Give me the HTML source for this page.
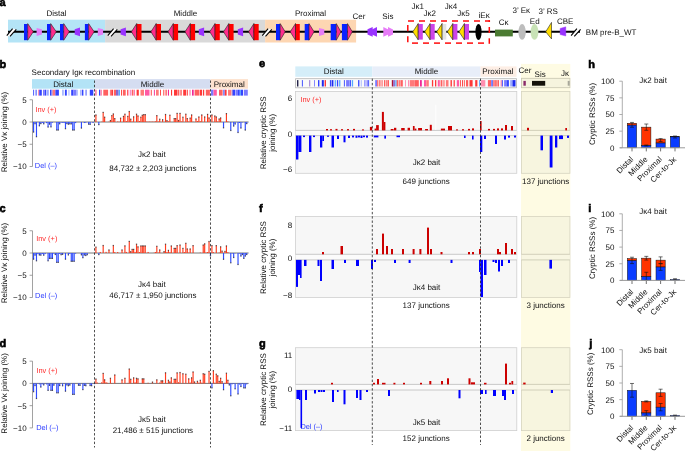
<!DOCTYPE html>
<html><head><meta charset="utf-8"><style>
html,body{margin:0;padding:0;background:#fff;overflow:hidden;}
svg{display:block;will-change:transform;}
text{font-family:"Liberation Sans", sans-serif;text-rendering:geometricPrecision;}
</style></head><body>
<svg width="685" height="451" viewBox="0 0 685 451" font-family='"Liberation Sans", sans-serif'>
<rect x="0" y="0" width="685" height="451" fill="#fff"/>
<text x="-0.40" y="5.80" font-size="11" text-anchor="start" fill="#000" font-weight="bold" stroke="#000" stroke-width="0.6">a</text>
<rect x="8.00" y="19.70" width="97.10" height="22.80" fill="#b4e4f6" />
<rect x="105.10" y="19.70" width="160.00" height="22.80" fill="#d9d9d9" />
<rect x="265.10" y="19.70" width="91.00" height="22.80" fill="#fdd6b2" />
<text x="56.50" y="16.00" font-size="8" text-anchor="middle" fill="#111" font-weight="normal" >Distal</text>
<text x="185.50" y="16.00" font-size="8" text-anchor="middle" fill="#111" font-weight="normal" >Middle</text>
<text x="310.50" y="16.00" font-size="8" text-anchor="middle" fill="#111" font-weight="normal" >Proximal</text>
<line x1="8.00" y1="31.80" x2="580.00" y2="31.80" stroke="#000" stroke-width="1.9" />
<polygon points="6.80,35.60 10.00,36.40 16.30,29.30 12.60,28.60" fill="#fff" />
<line x1="6.80" y1="35.60" x2="12.60" y2="28.60" stroke="#000" stroke-width="1.1" />
<line x1="10.00" y1="36.40" x2="16.30" y2="29.30" stroke="#000" stroke-width="1.1" />
<rect x="24.00" y="24.00" width="3.70" height="16.20" fill="#0a22ff" />
<polygon points="27.70,23.60 33.30,31.80 27.70,40.20" fill="#ff2d8c" stroke="#222" stroke-width="0.6"/>
<polygon points="36.60,27.90 41.90,29.30 41.90,34.40 36.60,35.90" fill="#e67cf7" />
<rect x="47.00" y="24.00" width="3.70" height="16.20" fill="#0a22ff" />
<polygon points="50.70,23.60 56.30,31.80 50.70,40.20" fill="#ff2d8c" stroke="#222" stroke-width="0.6"/>
<rect x="60.00" y="24.00" width="3.70" height="16.20" fill="#0a22ff" />
<polygon points="63.70,23.60 69.30,31.80 63.70,40.20" fill="#ff2d8c" stroke="#222" stroke-width="0.6"/>
<polygon points="74.70,29.30 80.00,27.60 80.00,36.20 74.70,34.40" fill="#9933ff" />
<rect x="84.90" y="24.00" width="3.70" height="16.20" fill="#0a22ff" />
<polygon points="88.60,23.60 94.20,31.80 88.60,40.20" fill="#ff2d8c" stroke="#222" stroke-width="0.6"/>
<polygon points="97.80,27.90 103.10,29.30 103.10,34.40 97.80,35.90" fill="#e67cf7" />
<polygon points="107.80,35.60 111.00,36.40 117.30,29.30 113.60,28.60" fill="#fff" />
<line x1="107.80" y1="35.60" x2="113.60" y2="28.60" stroke="#000" stroke-width="1.1" />
<line x1="111.00" y1="36.40" x2="117.30" y2="29.30" stroke="#000" stroke-width="1.1" />
<polygon points="120.60,29.30 125.90,27.60 125.90,36.20 120.60,34.40" fill="#9933ff" />
<polygon points="131.40,31.80 136.70,23.60 136.70,40.20" fill="#ff2d8c" stroke="#222" stroke-width="0.6"/>
<rect x="136.70" y="24.00" width="4.80" height="16.20" fill="#ff0000" />
<line x1="136.70" y1="23.60" x2="136.70" y2="40.20" stroke="#222" stroke-width="0.6" />
<polygon points="150.90,31.80 156.20,23.60 156.20,40.20" fill="#ff2d8c" stroke="#222" stroke-width="0.6"/>
<rect x="156.20" y="24.00" width="4.80" height="16.20" fill="#ff0000" />
<line x1="156.20" y1="23.60" x2="156.20" y2="40.20" stroke="#222" stroke-width="0.6" />
<polygon points="168.00,31.80 173.30,23.60 173.30,40.20" fill="#ff2d8c" stroke="#222" stroke-width="0.6"/>
<rect x="173.30" y="24.00" width="4.80" height="16.20" fill="#ff0000" />
<line x1="173.30" y1="23.60" x2="173.30" y2="40.20" stroke="#222" stroke-width="0.6" />
<polygon points="185.00,31.80 190.30,23.60 190.30,40.20" fill="#ff2d8c" stroke="#222" stroke-width="0.6"/>
<rect x="190.30" y="24.00" width="4.80" height="16.20" fill="#ff0000" />
<line x1="190.30" y1="23.60" x2="190.30" y2="40.20" stroke="#222" stroke-width="0.6" />
<polygon points="209.70,31.80 215.00,23.60 215.00,40.20" fill="#ff2d8c" stroke="#222" stroke-width="0.6"/>
<rect x="215.00" y="24.00" width="4.80" height="16.20" fill="#ff0000" />
<line x1="215.00" y1="23.60" x2="215.00" y2="40.20" stroke="#222" stroke-width="0.6" />
<polygon points="223.50,31.80 228.80,23.60 228.80,40.20" fill="#ff2d8c" stroke="#222" stroke-width="0.6"/>
<rect x="228.80" y="24.00" width="4.80" height="16.20" fill="#ff0000" />
<line x1="228.80" y1="23.60" x2="228.80" y2="40.20" stroke="#222" stroke-width="0.6" />
<polygon points="248.60,31.80 253.90,23.60 253.90,40.20" fill="#ff2d8c" stroke="#222" stroke-width="0.6"/>
<rect x="253.90" y="24.00" width="4.80" height="16.20" fill="#ff0000" />
<line x1="253.90" y1="23.60" x2="253.90" y2="40.20" stroke="#222" stroke-width="0.6" />
<polygon points="198.80,29.30 204.10,27.60 204.10,36.20 198.80,34.40" fill="#9933ff" />
<polygon points="237.80,29.30 243.10,27.60 243.10,36.20 237.80,34.40" fill="#9933ff" />
<polygon points="262.30,35.60 265.50,36.40 271.80,29.30 268.10,28.60" fill="#fff" />
<line x1="262.30" y1="35.60" x2="268.10" y2="28.60" stroke="#000" stroke-width="1.1" />
<line x1="265.50" y1="36.40" x2="271.80" y2="29.30" stroke="#000" stroke-width="1.1" />
<rect x="276.00" y="24.00" width="4.20" height="16.20" fill="#0a22ff" />
<polygon points="280.20,23.60 285.20,31.80 280.20,40.20" fill="#ff2d8c" stroke="#222" stroke-width="0.6"/>
<polygon points="290.20,31.80 295.50,23.60 295.50,40.20" fill="#ff2d8c" stroke="#222" stroke-width="0.6"/>
<rect x="295.50" y="24.00" width="4.30" height="16.20" fill="#ff0000" />
<line x1="295.50" y1="23.60" x2="295.50" y2="40.20" stroke="#222" stroke-width="0.6" />
<rect x="304.70" y="24.00" width="4.30" height="16.20" fill="#0a22ff" />
<polygon points="309.00,23.60 314.10,31.80 309.00,40.20" fill="#ff2d8c" stroke="#222" stroke-width="0.6"/>
<polygon points="319.00,27.90 324.30,29.30 324.30,34.40 319.00,35.90" fill="#e67cf7" />
<rect x="330.70" y="24.00" width="5.60" height="16.20" fill="#0a22ff" />
<polygon points="336.30,23.60 340.90,31.80 336.30,40.20" fill="#ff2d8c" stroke="#222" stroke-width="0.6"/>
<rect x="341.90" y="24.00" width="5.60" height="16.20" fill="#0a22ff" />
<polygon points="347.50,23.60 352.30,31.80 347.50,40.20" fill="#ff2d8c" stroke="#222" stroke-width="0.6"/>
<polygon points="367.50,29.20 372.70,27.00 372.70,36.70 367.50,34.60" fill="#9933ff" />
<polygon points="372.00,29.40 377.00,27.00 377.00,36.70 372.00,34.40" fill="#9933ff" />
<polygon points="383.30,27.00 388.30,29.40 388.30,34.40 383.30,36.70" fill="#e67cf7" />
<polygon points="388.00,27.00 393.00,29.40 393.00,34.40 388.00,36.70" fill="#e67cf7" />
<text x="352.60" y="18.60" font-size="8" text-anchor="start" fill="#111" font-weight="normal" >Cer</text>
<text x="382.30" y="18.60" font-size="8" text-anchor="start" fill="#111" font-weight="normal" >Sis</text>
<polygon points="412.80,31.80 418.20,23.60 418.20,39.80" fill="#ffdd00" stroke="#222" stroke-width="0.6"/>
<rect x="418.20" y="24.00" width="4.60" height="15.60" fill="#cc44e8" />
<line x1="418.20" y1="23.60" x2="418.20" y2="39.80" stroke="#222" stroke-width="0.6" />
<polygon points="424.70,31.80 430.10,23.60 430.10,39.80" fill="#ffdd00" stroke="#222" stroke-width="0.6"/>
<rect x="430.10" y="24.00" width="4.60" height="15.60" fill="#cc44e8" />
<line x1="430.10" y1="23.60" x2="430.10" y2="39.80" stroke="#222" stroke-width="0.6" />
<polygon points="436.70,31.80 442.10,23.60 442.10,39.80" fill="#ffdd00" stroke="#222" stroke-width="0.6"/>
<rect x="442.10" y="24.00" width="4.20" height="15.60" fill="#e2e2e2" />
<line x1="442.10" y1="23.60" x2="442.10" y2="39.80" stroke="#222" stroke-width="0.6" />
<polygon points="447.40,31.80 452.80,23.60 452.80,39.80" fill="#ffdd00" stroke="#222" stroke-width="0.6"/>
<rect x="452.80" y="24.00" width="4.60" height="15.60" fill="#cc44e8" />
<line x1="452.80" y1="23.60" x2="452.80" y2="39.80" stroke="#222" stroke-width="0.6" />
<polygon points="459.00,31.80 464.40,23.60 464.40,39.80" fill="#ffdd00" stroke="#222" stroke-width="0.6"/>
<rect x="464.40" y="24.00" width="4.60" height="15.60" fill="#cc44e8" />
<line x1="464.40" y1="23.60" x2="464.40" y2="39.80" stroke="#222" stroke-width="0.6" />
<ellipse cx="478.5" cy="32.0" rx="3.1" ry="8.0" fill="#000"/>
<line x1="408.00" y1="21.00" x2="414.00" y2="21.00" stroke="#ff0a0a" stroke-width="1.5" />
<line x1="419.00" y1="21.00" x2="425.00" y2="21.00" stroke="#ff0a0a" stroke-width="1.5" />
<line x1="430.00" y1="21.00" x2="436.00" y2="21.00" stroke="#ff0a0a" stroke-width="1.5" />
<line x1="441.00" y1="21.00" x2="447.00" y2="21.00" stroke="#ff0a0a" stroke-width="1.5" />
<line x1="452.00" y1="21.00" x2="458.00" y2="21.00" stroke="#ff0a0a" stroke-width="1.5" />
<line x1="463.00" y1="21.00" x2="469.00" y2="21.00" stroke="#ff0a0a" stroke-width="1.5" />
<line x1="474.00" y1="21.00" x2="480.00" y2="21.00" stroke="#ff0a0a" stroke-width="1.5" />
<line x1="485.00" y1="21.00" x2="490.00" y2="21.00" stroke="#ff0a0a" stroke-width="1.5" />
<line x1="412.00" y1="43.10" x2="418.00" y2="43.10" stroke="#ff0a0a" stroke-width="1.5" />
<line x1="423.00" y1="43.10" x2="429.00" y2="43.10" stroke="#ff0a0a" stroke-width="1.5" />
<line x1="434.00" y1="43.10" x2="440.00" y2="43.10" stroke="#ff0a0a" stroke-width="1.5" />
<line x1="445.00" y1="43.10" x2="451.00" y2="43.10" stroke="#ff0a0a" stroke-width="1.5" />
<line x1="456.00" y1="43.10" x2="462.00" y2="43.10" stroke="#ff0a0a" stroke-width="1.5" />
<line x1="467.00" y1="43.10" x2="473.00" y2="43.10" stroke="#ff0a0a" stroke-width="1.5" />
<line x1="478.00" y1="43.10" x2="484.00" y2="43.10" stroke="#ff0a0a" stroke-width="1.5" />
<line x1="407.80" y1="25.00" x2="407.80" y2="31.30" stroke="#ff0a0a" stroke-width="1.5" />
<line x1="407.80" y1="36.30" x2="407.80" y2="42.30" stroke="#ff0a0a" stroke-width="1.5" />
<line x1="489.30" y1="20.30" x2="489.30" y2="22.00" stroke="#ff0a0a" stroke-width="1.5" />
<line x1="489.30" y1="27.00" x2="489.30" y2="33.00" stroke="#ff0a0a" stroke-width="1.5" />
<line x1="489.30" y1="38.30" x2="489.30" y2="43.80" stroke="#ff0a0a" stroke-width="1.5" />
<text x="411.50" y="9.20" font-size="8" text-anchor="start" fill="#111" font-weight="normal" >J&#954;1</text>
<text x="423.40" y="16.40" font-size="8" text-anchor="start" fill="#111" font-weight="normal" >J&#954;2</text>
<text x="444.80" y="9.20" font-size="8" text-anchor="start" fill="#111" font-weight="normal" >J&#954;4</text>
<text x="457.20" y="16.40" font-size="8" text-anchor="start" fill="#111" font-weight="normal" >J&#954;5</text>
<text x="478.60" y="17.80" font-size="8" text-anchor="start" fill="#111" font-weight="normal" >iE&#954;</text>
<rect x="495.00" y="29.60" width="17.80" height="6.80" fill="#4b7b32" />
<ellipse cx="522.1" cy="31.9" rx="3.7" ry="7.8" fill="#bdbdbd"/>
<ellipse cx="534.5" cy="31.9" rx="3.9" ry="7.8" fill="#c8e2b6"/>
<polygon points="545.70,31.80 551.50,22.40 551.50,38.90" fill="#ffdd00" stroke="#222" stroke-width="0.6"/>
<polygon points="560.10,28.40 565.80,26.80 565.80,36.00 560.10,34.60" fill="#9933ff" stroke="#9933ff" stroke-width="0.4" stroke-linejoin="round"/>
<polygon points="571.10,35.60 574.30,36.40 580.60,29.30 576.90,28.60" fill="#fff" />
<line x1="571.10" y1="35.60" x2="576.90" y2="28.60" stroke="#000" stroke-width="1.1" />
<line x1="574.30" y1="36.40" x2="580.60" y2="29.30" stroke="#000" stroke-width="1.1" />
<text x="498.80" y="25.40" font-size="8" text-anchor="start" fill="#111" font-weight="normal" >C&#954;</text>
<text x="512.60" y="12.80" font-size="8" text-anchor="start" fill="#111" font-weight="normal" >3&#8217; E&#954;</text>
<text x="529.80" y="24.00" font-size="8" text-anchor="start" fill="#111" font-weight="normal" >Ed</text>
<text x="538.60" y="13.50" font-size="8" text-anchor="start" fill="#111" font-weight="normal" >3&#8217; RS</text>
<text x="557.00" y="24.30" font-size="8" text-anchor="start" fill="#111" font-weight="normal" >CBE</text>
<text x="585.80" y="34.80" font-size="8" text-anchor="start" fill="#111" font-weight="normal" >BM pre-B_WT</text>
<text x="31.60" y="75.40" font-size="8" text-anchor="start" fill="#111" font-weight="normal" >Secondary Ig&#954; recombination</text>
<rect x="32.00" y="79.10" width="62.90" height="9.60" fill="#b3e3f6" />
<rect x="94.90" y="79.10" width="115.60" height="9.60" fill="#d5ddf1" />
<rect x="210.50" y="79.10" width="37.50" height="9.60" fill="#fde1cd" />
<text x="63.30" y="86.60" font-size="8" text-anchor="middle" fill="#111" font-weight="normal" >Distal</text>
<text x="152.50" y="86.60" font-size="8" text-anchor="middle" fill="#111" font-weight="normal" >Middle</text>
<text x="229.20" y="86.60" font-size="8" text-anchor="middle" fill="#111" font-weight="normal" >Proximal</text>
<rect x="33.10" y="89.70" width="0.80" height="5.90" fill="#3344ff" />
<rect x="34.80" y="89.70" width="0.50" height="5.90" fill="#99aaff" />
<rect x="35.70" y="89.70" width="0.90" height="5.90" fill="#3344ff" />
<rect x="38.00" y="89.70" width="1.20" height="5.90" fill="#ff8fb0" />
<rect x="39.20" y="89.70" width="2.60" height="5.90" fill="#3344ff" />
<rect x="43.00" y="89.70" width="1.90" height="5.90" fill="#7a7aff" />
<rect x="45.00" y="89.70" width="1.20" height="5.90" fill="#3344ff" />
<rect x="46.60" y="89.70" width="2.20" height="5.90" fill="#99aaff" />
<rect x="50.00" y="89.70" width="1.50" height="5.90" fill="#3344ff" />
<rect x="51.50" y="89.70" width="1.10" height="5.90" fill="#7a7aff" />
<rect x="52.60" y="89.70" width="2.80" height="5.90" fill="#ff7a7a" />
<rect x="55.40" y="89.70" width="3.50" height="5.90" fill="#3344ff" />
<rect x="62.00" y="89.70" width="0.80" height="5.90" fill="#99aaff" />
<rect x="63.30" y="89.70" width="0.90" height="5.90" fill="#99aaff" />
<rect x="65.00" y="89.70" width="1.80" height="5.90" fill="#3344ff" />
<rect x="68.50" y="89.70" width="0.90" height="5.90" fill="#99aaff" />
<rect x="71.20" y="89.70" width="2.30" height="5.90" fill="#3344ff" />
<rect x="73.50" y="89.70" width="2.90" height="5.90" fill="#7a7aff" />
<rect x="76.40" y="89.70" width="1.30" height="5.90" fill="#99aaff" />
<rect x="80.00" y="89.70" width="0.80" height="5.90" fill="#99aaff" />
<rect x="81.70" y="89.70" width="1.70" height="5.90" fill="#3344ff" />
<rect x="85.60" y="89.70" width="0.90" height="5.90" fill="#3344ff" />
<rect x="89.80" y="89.70" width="3.50" height="5.90" fill="#3344ff" />
<rect x="95.00" y="89.70" width="1.80" height="5.90" fill="#ff8fb0" />
<rect x="99.00" y="89.70" width="1.30" height="5.90" fill="#3344ff" />
<rect x="100.30" y="89.70" width="1.70" height="5.90" fill="#ff8fb0" />
<rect x="103.30" y="89.70" width="4.80" height="5.90" fill="#ff6060" />
<rect x="109.90" y="89.70" width="1.10" height="5.90" fill="#ff7a7a" />
<rect x="111.20" y="89.70" width="1.80" height="5.90" fill="#ff3838" />
<rect x="113.80" y="89.70" width="2.20" height="5.90" fill="#ff6060" />
<rect x="116.00" y="89.70" width="2.60" height="5.90" fill="#8a66cc" />
<rect x="118.60" y="89.70" width="1.40" height="5.90" fill="#55aaff" />
<rect x="121.10" y="89.70" width="1.00" height="5.90" fill="#ff3838" />
<rect x="123.00" y="89.70" width="2.70" height="5.90" fill="#ff6060" />
<rect x="127.00" y="89.70" width="0.80" height="5.90" fill="#ff3838" />
<rect x="128.50" y="89.70" width="0.70" height="5.90" fill="#ff5aa5" />
<rect x="130.50" y="89.70" width="0.80" height="5.90" fill="#f02896" />
<rect x="132.20" y="89.70" width="1.20" height="5.90" fill="#ff3838" />
<rect x="134.00" y="89.70" width="0.80" height="5.90" fill="#ff5aa5" />
<rect x="136.60" y="89.70" width="2.20" height="5.90" fill="#ff3838" />
<rect x="140.50" y="89.70" width="3.50" height="5.90" fill="#ff7a7a" />
<rect x="145.00" y="89.70" width="4.50" height="5.90" fill="#ff5aa5" />
<rect x="150.80" y="89.70" width="0.90" height="5.90" fill="#ff3838" />
<rect x="153.90" y="89.70" width="0.90" height="5.90" fill="#f02896" />
<rect x="156.00" y="89.70" width="2.70" height="5.90" fill="#ff7a7a" />
<rect x="160.00" y="89.70" width="0.90" height="5.90" fill="#ff3838" />
<rect x="163.00" y="89.70" width="1.40" height="5.90" fill="#ff7a7a" />
<rect x="165.30" y="89.70" width="1.70" height="5.90" fill="#ff7a7a" />
<rect x="167.90" y="89.70" width="1.10" height="5.90" fill="#f02896" />
<rect x="171.00" y="89.70" width="1.10" height="5.90" fill="#ff3838" />
<rect x="174.00" y="89.70" width="3.50" height="5.90" fill="#ff3838" />
<rect x="178.20" y="89.70" width="1.10" height="5.90" fill="#ff3838" />
<rect x="180.20" y="89.70" width="1.70" height="5.90" fill="#ff7a7a" />
<rect x="183.20" y="89.70" width="3.10" height="5.90" fill="#ff3838" />
<rect x="187.20" y="89.70" width="0.80" height="5.90" fill="#ff3838" />
<rect x="189.30" y="89.70" width="1.40" height="5.90" fill="#ff8fb0" />
<rect x="192.00" y="89.70" width="1.70" height="5.90" fill="#f02896" />
<rect x="194.60" y="89.70" width="4.80" height="5.90" fill="#ff6060" />
<rect x="199.90" y="89.70" width="2.10" height="5.90" fill="#ff3838" />
<rect x="202.90" y="89.70" width="1.30" height="5.90" fill="#ff3838" />
<rect x="205.80" y="89.70" width="4.10" height="5.90" fill="#ff6060" />
<rect x="211.00" y="89.70" width="2.50" height="5.90" fill="#7a7aff" />
<rect x="213.50" y="89.70" width="3.30" height="5.90" fill="#ff5aa5" />
<rect x="219.00" y="89.70" width="3.60" height="5.90" fill="#ff6060" />
<rect x="223.40" y="89.70" width="1.10" height="5.90" fill="#3344ff" />
<rect x="224.80" y="89.70" width="1.80" height="5.90" fill="#ff3838" />
<rect x="228.00" y="89.70" width="3.40" height="5.90" fill="#ff7a7a" />
<rect x="231.80" y="89.70" width="1.00" height="5.90" fill="#8a66cc" />
<rect x="232.80" y="89.70" width="2.20" height="5.90" fill="#3344ff" />
<rect x="235.40" y="89.70" width="2.60" height="5.90" fill="#7a7aff" />
<rect x="238.00" y="89.70" width="1.80" height="5.90" fill="#3344ff" />
<rect x="239.80" y="89.70" width="1.10" height="5.90" fill="#55aaff" />
<rect x="240.90" y="89.70" width="2.10" height="5.90" fill="#3344ff" />
<rect x="243.80" y="89.70" width="4.00" height="5.90" fill="#7a7aff" />
<text x="-0.60" y="67.90" font-size="11" text-anchor="start" fill="#000" font-weight="bold" stroke="#000" stroke-width="0.6">b</text>
<line x1="32.50" y1="99.75" x2="32.50" y2="166.50" stroke="#8a8a8a" stroke-width="0.8" />
<line x1="29.60" y1="99.75" x2="32.50" y2="99.75" stroke="#8a8a8a" stroke-width="0.8" />
<text x="26.70" y="102.65" font-size="8" text-anchor="end" fill="#111" font-weight="normal" >5</text>
<line x1="29.60" y1="122.00" x2="32.50" y2="122.00" stroke="#8a8a8a" stroke-width="0.8" />
<text x="26.70" y="124.90" font-size="8" text-anchor="end" fill="#111" font-weight="normal" >0</text>
<line x1="29.60" y1="144.25" x2="32.50" y2="144.25" stroke="#8a8a8a" stroke-width="0.8" />
<text x="26.70" y="147.15" font-size="8" text-anchor="end" fill="#111" font-weight="normal" >&#8722;5</text>
<line x1="29.60" y1="166.50" x2="32.50" y2="166.50" stroke="#8a8a8a" stroke-width="0.8" />
<text x="26.70" y="169.40" font-size="8" text-anchor="end" fill="#111" font-weight="normal" >&#8722;10</text>
<text transform="translate(6.8,132.00) rotate(-90)" font-size="8" text-anchor="middle" fill="#111">Relative V&#954; joining (%)</text>
<text x="35.40" y="111.70" font-size="7.4" text-anchor="start" fill="#ff2a2a" font-weight="normal" >Inv (+)</text>
<text x="34.80" y="167.90" font-size="7.4" text-anchor="start" fill="#2a3aff" font-weight="normal" >Del (&#8211;)</text>
<text x="151.90" y="156.80" font-size="8" text-anchor="middle" fill="#111" font-weight="normal" >J&#954;2 bait</text>
<text x="152.90" y="171.00" font-size="8" text-anchor="middle" fill="#111" font-weight="normal" >84,732 &#177; 2,203 junctions</text>
<line x1="32.50" y1="122.00" x2="248.60" y2="122.00" stroke="#555" stroke-width="0.8" />
<rect x="33.00" y="122.00" width="1.15" height="10.00" fill="#2e4bff" />
<rect x="32.95" y="131.50" width="1.25" height="1.20" fill="#2a2a3a" opacity="0.8"/>
<rect x="34.45" y="122.00" width="1.15" height="1.61" fill="#2e4bff" />
<rect x="34.40" y="123.11" width="1.25" height="1.20" fill="#2a2a3a" opacity="0.8"/>
<rect x="35.90" y="122.00" width="1.15" height="14.60" fill="#2e4bff" />
<rect x="35.85" y="136.10" width="1.25" height="1.20" fill="#2a2a3a" opacity="0.8"/>
<rect x="38.80" y="122.00" width="1.15" height="3.70" fill="#2e4bff" />
<rect x="38.75" y="125.20" width="1.25" height="1.20" fill="#2a2a3a" opacity="0.8"/>
<rect x="40.25" y="122.00" width="1.15" height="1.51" fill="#2e4bff" />
<rect x="40.20" y="123.01" width="1.25" height="1.20" fill="#2a2a3a" opacity="0.8"/>
<rect x="41.70" y="122.00" width="1.15" height="0.93" fill="#2e4bff" />
<rect x="43.15" y="122.00" width="1.15" height="1.73" fill="#2e4bff" />
<rect x="43.10" y="123.23" width="1.25" height="1.20" fill="#2a2a3a" opacity="0.8"/>
<rect x="46.05" y="122.00" width="1.15" height="1.15" fill="#2e4bff" />
<rect x="47.50" y="122.00" width="1.15" height="5.00" fill="#2e4bff" />
<rect x="47.45" y="126.50" width="1.25" height="1.20" fill="#2a2a3a" opacity="0.8"/>
<rect x="48.95" y="122.00" width="1.15" height="2.06" fill="#2e4bff" />
<rect x="48.90" y="123.56" width="1.25" height="1.20" fill="#2a2a3a" opacity="0.8"/>
<rect x="50.40" y="122.00" width="1.15" height="4.80" fill="#2e4bff" />
<rect x="50.35" y="126.30" width="1.25" height="1.20" fill="#2a2a3a" opacity="0.8"/>
<rect x="51.85" y="122.00" width="1.15" height="0.68" fill="#2e4bff" />
<rect x="56.20" y="122.00" width="1.15" height="8.00" fill="#2e4bff" />
<rect x="56.15" y="129.50" width="1.25" height="1.20" fill="#2a2a3a" opacity="0.8"/>
<rect x="57.65" y="122.00" width="1.15" height="8.00" fill="#2e4bff" />
<rect x="57.60" y="129.50" width="1.25" height="1.20" fill="#2a2a3a" opacity="0.8"/>
<rect x="59.10" y="122.00" width="1.15" height="1.71" fill="#2e4bff" />
<rect x="59.05" y="123.21" width="1.25" height="1.20" fill="#2a2a3a" opacity="0.8"/>
<rect x="60.55" y="122.00" width="1.15" height="0.63" fill="#2e4bff" />
<rect x="62.00" y="122.00" width="1.15" height="0.71" fill="#2e4bff" />
<rect x="63.45" y="122.00" width="1.15" height="1.04" fill="#2e4bff" />
<rect x="64.90" y="122.00" width="1.15" height="6.60" fill="#2e4bff" />
<rect x="64.85" y="128.10" width="1.25" height="1.20" fill="#2a2a3a" opacity="0.8"/>
<rect x="66.35" y="122.00" width="1.15" height="1.44" fill="#2e4bff" />
<rect x="66.30" y="122.94" width="1.25" height="1.20" fill="#2a2a3a" opacity="0.8"/>
<rect x="67.80" y="122.00" width="1.15" height="2.12" fill="#2e4bff" />
<rect x="67.75" y="123.62" width="1.25" height="1.20" fill="#2a2a3a" opacity="0.8"/>
<rect x="69.25" y="122.00" width="1.15" height="1.75" fill="#2e4bff" />
<rect x="69.20" y="123.25" width="1.25" height="1.20" fill="#2a2a3a" opacity="0.8"/>
<rect x="70.70" y="122.00" width="1.15" height="1.79" fill="#2e4bff" />
<rect x="70.65" y="123.29" width="1.25" height="1.20" fill="#2a2a3a" opacity="0.8"/>
<rect x="72.15" y="122.00" width="1.15" height="8.00" fill="#2e4bff" />
<rect x="72.10" y="129.50" width="1.25" height="1.20" fill="#2a2a3a" opacity="0.8"/>
<rect x="73.60" y="122.00" width="1.15" height="8.00" fill="#2e4bff" />
<rect x="73.55" y="129.50" width="1.25" height="1.20" fill="#2a2a3a" opacity="0.8"/>
<rect x="75.05" y="122.00" width="1.15" height="1.10" fill="#2e4bff" />
<rect x="80.85" y="122.00" width="1.15" height="6.00" fill="#2e4bff" />
<rect x="80.80" y="127.50" width="1.25" height="1.20" fill="#2a2a3a" opacity="0.8"/>
<rect x="83.75" y="122.00" width="1.15" height="1.01" fill="#2e4bff" />
<rect x="85.20" y="122.00" width="1.15" height="0.73" fill="#2e4bff" />
<rect x="88.10" y="122.00" width="1.15" height="2.12" fill="#2e4bff" />
<rect x="88.05" y="123.62" width="1.25" height="1.20" fill="#2a2a3a" opacity="0.8"/>
<rect x="89.55" y="122.00" width="1.15" height="2.32" fill="#2e4bff" />
<rect x="89.50" y="123.82" width="1.25" height="1.20" fill="#2a2a3a" opacity="0.8"/>
<rect x="92.45" y="122.00" width="1.15" height="0.98" fill="#2e4bff" />
<rect x="95.35" y="115.00" width="1.15" height="7.00" fill="#ff3a1c" />
<rect x="95.30" y="114.30" width="1.25" height="1.20" fill="#3a2a2a" opacity="0.8"/>
<rect x="98.25" y="122.00" width="1.15" height="2.50" fill="#2e4bff" />
<rect x="98.20" y="124.00" width="1.25" height="1.20" fill="#2a2a3a" opacity="0.8"/>
<rect x="101.15" y="121.71" width="1.15" height="0.29" fill="#ff3a1c" />
<rect x="102.60" y="112.50" width="1.15" height="9.50" fill="#ff3a1c" />
<rect x="102.55" y="111.80" width="1.25" height="1.20" fill="#3a2a2a" opacity="0.8"/>
<rect x="104.05" y="117.30" width="1.15" height="4.70" fill="#ff3a1c" />
<rect x="104.00" y="116.60" width="1.25" height="1.20" fill="#3a2a2a" opacity="0.8"/>
<rect x="108.40" y="121.70" width="1.15" height="0.30" fill="#ff3a1c" />
<rect x="109.85" y="120.64" width="1.15" height="1.36" fill="#ff3a1c" />
<rect x="109.80" y="119.94" width="1.25" height="1.20" fill="#3a2a2a" opacity="0.8"/>
<rect x="111.30" y="115.70" width="1.15" height="6.30" fill="#ff3a1c" />
<rect x="111.25" y="115.00" width="1.25" height="1.20" fill="#3a2a2a" opacity="0.8"/>
<rect x="112.75" y="114.00" width="1.15" height="8.00" fill="#ff3a1c" />
<rect x="112.70" y="113.30" width="1.25" height="1.20" fill="#3a2a2a" opacity="0.8"/>
<rect x="114.20" y="118.70" width="1.15" height="3.30" fill="#ff3a1c" />
<rect x="114.15" y="118.00" width="1.25" height="1.20" fill="#3a2a2a" opacity="0.8"/>
<rect x="117.10" y="121.50" width="1.15" height="0.50" fill="#ff3a1c" />
<rect x="118.55" y="121.73" width="1.15" height="0.27" fill="#ff3a1c" />
<rect x="120.00" y="118.30" width="1.15" height="3.70" fill="#ff3a1c" />
<rect x="119.95" y="117.60" width="1.25" height="1.20" fill="#3a2a2a" opacity="0.8"/>
<rect x="122.90" y="116.50" width="1.15" height="5.50" fill="#ff3a1c" />
<rect x="122.85" y="115.80" width="1.25" height="1.20" fill="#3a2a2a" opacity="0.8"/>
<rect x="124.35" y="114.30" width="1.15" height="7.70" fill="#ff3a1c" />
<rect x="124.30" y="113.60" width="1.25" height="1.20" fill="#3a2a2a" opacity="0.8"/>
<rect x="125.80" y="121.13" width="1.15" height="0.87" fill="#ff3a1c" />
<rect x="127.25" y="116.50" width="1.15" height="5.50" fill="#ff3a1c" />
<rect x="127.20" y="115.80" width="1.25" height="1.20" fill="#3a2a2a" opacity="0.8"/>
<rect x="128.70" y="111.60" width="1.15" height="10.40" fill="#ff3a1c" />
<rect x="128.65" y="110.90" width="1.25" height="1.20" fill="#3a2a2a" opacity="0.8"/>
<rect x="130.15" y="119.30" width="1.15" height="2.70" fill="#ff3a1c" />
<rect x="130.10" y="118.60" width="1.25" height="1.20" fill="#3a2a2a" opacity="0.8"/>
<rect x="131.60" y="121.57" width="1.15" height="0.43" fill="#ff3a1c" />
<rect x="133.05" y="116.90" width="1.15" height="5.10" fill="#ff3a1c" />
<rect x="133.00" y="116.20" width="1.25" height="1.20" fill="#3a2a2a" opacity="0.8"/>
<rect x="135.95" y="114.30" width="1.15" height="7.70" fill="#ff3a1c" />
<rect x="135.90" y="113.60" width="1.25" height="1.20" fill="#3a2a2a" opacity="0.8"/>
<rect x="137.40" y="116.00" width="1.15" height="6.00" fill="#ff3a1c" />
<rect x="137.35" y="115.30" width="1.25" height="1.20" fill="#3a2a2a" opacity="0.8"/>
<rect x="138.85" y="121.03" width="1.15" height="0.97" fill="#ff3a1c" />
<rect x="140.30" y="117.30" width="1.15" height="4.70" fill="#ff3a1c" />
<rect x="140.25" y="116.60" width="1.25" height="1.20" fill="#3a2a2a" opacity="0.8"/>
<rect x="141.75" y="115.30" width="1.15" height="6.70" fill="#ff3a1c" />
<rect x="141.70" y="114.60" width="1.25" height="1.20" fill="#3a2a2a" opacity="0.8"/>
<rect x="143.20" y="114.70" width="1.15" height="7.30" fill="#ff3a1c" />
<rect x="143.15" y="114.00" width="1.25" height="1.20" fill="#3a2a2a" opacity="0.8"/>
<rect x="144.65" y="114.70" width="1.15" height="7.30" fill="#ff3a1c" />
<rect x="144.60" y="114.00" width="1.25" height="1.20" fill="#3a2a2a" opacity="0.8"/>
<rect x="146.10" y="121.60" width="1.15" height="0.40" fill="#ff3a1c" />
<rect x="147.55" y="121.60" width="1.15" height="0.40" fill="#ff3a1c" />
<rect x="149.00" y="121.60" width="1.15" height="0.40" fill="#ff3a1c" />
<rect x="150.45" y="121.60" width="1.15" height="0.40" fill="#ff3a1c" />
<rect x="151.90" y="121.60" width="1.15" height="0.40" fill="#ff3a1c" />
<rect x="153.35" y="121.60" width="1.15" height="0.40" fill="#ff3a1c" />
<rect x="154.80" y="121.30" width="1.15" height="0.70" fill="#ff3a1c" />
<rect x="156.25" y="115.70" width="1.15" height="6.30" fill="#ff3a1c" />
<rect x="156.20" y="115.00" width="1.25" height="1.20" fill="#3a2a2a" opacity="0.8"/>
<rect x="157.70" y="121.48" width="1.15" height="0.52" fill="#ff3a1c" />
<rect x="159.15" y="119.30" width="1.15" height="2.70" fill="#ff3a1c" />
<rect x="159.10" y="118.60" width="1.25" height="1.20" fill="#3a2a2a" opacity="0.8"/>
<rect x="162.05" y="119.80" width="1.15" height="2.20" fill="#ff3a1c" />
<rect x="162.00" y="119.10" width="1.25" height="1.20" fill="#3a2a2a" opacity="0.8"/>
<rect x="164.95" y="114.60" width="1.15" height="7.40" fill="#ff3a1c" />
<rect x="164.90" y="113.90" width="1.25" height="1.20" fill="#3a2a2a" opacity="0.8"/>
<rect x="166.40" y="120.74" width="1.15" height="1.26" fill="#ff3a1c" />
<rect x="166.35" y="120.04" width="1.25" height="1.20" fill="#3a2a2a" opacity="0.8"/>
<rect x="167.85" y="121.33" width="1.15" height="0.67" fill="#ff3a1c" />
<rect x="169.30" y="115.30" width="1.15" height="6.70" fill="#ff3a1c" />
<rect x="169.25" y="114.60" width="1.25" height="1.20" fill="#3a2a2a" opacity="0.8"/>
<rect x="173.65" y="118.70" width="1.15" height="3.30" fill="#ff3a1c" />
<rect x="173.60" y="118.00" width="1.25" height="1.20" fill="#3a2a2a" opacity="0.8"/>
<rect x="175.10" y="118.70" width="1.15" height="3.30" fill="#ff3a1c" />
<rect x="175.05" y="118.00" width="1.25" height="1.20" fill="#3a2a2a" opacity="0.8"/>
<rect x="176.55" y="113.50" width="1.15" height="8.50" fill="#ff3a1c" />
<rect x="176.50" y="112.80" width="1.25" height="1.20" fill="#3a2a2a" opacity="0.8"/>
<rect x="178.00" y="120.61" width="1.15" height="1.39" fill="#ff3a1c" />
<rect x="177.95" y="119.91" width="1.25" height="1.20" fill="#3a2a2a" opacity="0.8"/>
<rect x="179.45" y="113.50" width="1.15" height="8.50" fill="#ff3a1c" />
<rect x="179.40" y="112.80" width="1.25" height="1.20" fill="#3a2a2a" opacity="0.8"/>
<rect x="180.90" y="121.49" width="1.15" height="0.51" fill="#ff3a1c" />
<rect x="182.35" y="117.30" width="1.15" height="4.70" fill="#ff3a1c" />
<rect x="182.30" y="116.60" width="1.25" height="1.20" fill="#3a2a2a" opacity="0.8"/>
<rect x="185.25" y="114.30" width="1.15" height="7.70" fill="#ff3a1c" />
<rect x="185.20" y="113.60" width="1.25" height="1.20" fill="#3a2a2a" opacity="0.8"/>
<rect x="186.70" y="118.70" width="1.15" height="3.30" fill="#ff3a1c" />
<rect x="186.65" y="118.00" width="1.25" height="1.20" fill="#3a2a2a" opacity="0.8"/>
<rect x="188.15" y="121.44" width="1.15" height="0.56" fill="#ff3a1c" />
<rect x="189.60" y="118.20" width="1.15" height="3.80" fill="#ff3a1c" />
<rect x="189.55" y="117.50" width="1.25" height="1.20" fill="#3a2a2a" opacity="0.8"/>
<rect x="191.05" y="115.00" width="1.15" height="7.00" fill="#ff3a1c" />
<rect x="191.00" y="114.30" width="1.25" height="1.20" fill="#3a2a2a" opacity="0.8"/>
<rect x="192.50" y="121.69" width="1.15" height="0.31" fill="#ff3a1c" />
<rect x="195.40" y="119.00" width="1.15" height="3.00" fill="#ff3a1c" />
<rect x="195.35" y="118.30" width="1.25" height="1.20" fill="#3a2a2a" opacity="0.8"/>
<rect x="196.85" y="121.08" width="1.15" height="0.92" fill="#ff3a1c" />
<rect x="198.30" y="117.00" width="1.15" height="5.00" fill="#ff3a1c" />
<rect x="198.25" y="116.30" width="1.25" height="1.20" fill="#3a2a2a" opacity="0.8"/>
<rect x="199.75" y="121.26" width="1.15" height="0.74" fill="#ff3a1c" />
<rect x="201.20" y="115.00" width="1.15" height="7.00" fill="#ff3a1c" />
<rect x="201.15" y="114.30" width="1.25" height="1.20" fill="#3a2a2a" opacity="0.8"/>
<rect x="204.10" y="117.00" width="1.15" height="5.00" fill="#ff3a1c" />
<rect x="204.05" y="116.30" width="1.25" height="1.20" fill="#3a2a2a" opacity="0.8"/>
<rect x="207.00" y="114.50" width="1.15" height="7.50" fill="#ff3a1c" />
<rect x="206.95" y="113.80" width="1.25" height="1.20" fill="#3a2a2a" opacity="0.8"/>
<rect x="208.45" y="118.00" width="1.15" height="4.00" fill="#ff3a1c" />
<rect x="208.40" y="117.30" width="1.25" height="1.20" fill="#3a2a2a" opacity="0.8"/>
<rect x="211.35" y="115.00" width="1.15" height="7.00" fill="#ff3a1c" />
<rect x="211.30" y="114.30" width="1.25" height="1.20" fill="#3a2a2a" opacity="0.8"/>
<rect x="214.25" y="116.00" width="1.15" height="6.00" fill="#ff3a1c" />
<rect x="214.20" y="115.30" width="1.25" height="1.20" fill="#3a2a2a" opacity="0.8"/>
<rect x="215.70" y="117.00" width="1.15" height="5.00" fill="#ff3a1c" />
<rect x="215.65" y="116.30" width="1.25" height="1.20" fill="#3a2a2a" opacity="0.8"/>
<rect x="217.15" y="121.44" width="1.15" height="0.56" fill="#ff3a1c" />
<rect x="218.60" y="119.00" width="1.15" height="3.00" fill="#ff3a1c" />
<rect x="218.55" y="118.30" width="1.25" height="1.20" fill="#3a2a2a" opacity="0.8"/>
<rect x="220.05" y="118.00" width="1.15" height="4.00" fill="#ff3a1c" />
<rect x="220.00" y="117.30" width="1.25" height="1.20" fill="#3a2a2a" opacity="0.8"/>
<rect x="222.95" y="122.00" width="1.15" height="5.70" fill="#2e4bff" />
<rect x="222.90" y="127.20" width="1.25" height="1.20" fill="#2a2a3a" opacity="0.8"/>
<rect x="225.85" y="113.70" width="1.15" height="8.30" fill="#ff3a1c" />
<rect x="225.80" y="113.00" width="1.25" height="1.20" fill="#3a2a2a" opacity="0.8"/>
<rect x="227.30" y="121.38" width="1.15" height="0.62" fill="#ff3a1c" />
<rect x="230.20" y="122.00" width="1.15" height="8.40" fill="#2e4bff" />
<rect x="230.15" y="129.90" width="1.25" height="1.20" fill="#2a2a3a" opacity="0.8"/>
<rect x="233.10" y="122.00" width="1.15" height="4.00" fill="#2e4bff" />
<rect x="233.05" y="125.50" width="1.25" height="1.20" fill="#2a2a3a" opacity="0.8"/>
<rect x="234.55" y="122.00" width="1.15" height="1.92" fill="#2e4bff" />
<rect x="234.50" y="123.42" width="1.25" height="1.20" fill="#2a2a3a" opacity="0.8"/>
<rect x="237.45" y="122.00" width="1.15" height="10.40" fill="#2e4bff" />
<rect x="237.40" y="131.90" width="1.25" height="1.20" fill="#2a2a3a" opacity="0.8"/>
<rect x="238.90" y="122.00" width="1.15" height="1.02" fill="#2e4bff" />
<rect x="240.35" y="122.00" width="1.15" height="6.00" fill="#2e4bff" />
<rect x="240.30" y="127.50" width="1.25" height="1.20" fill="#2a2a3a" opacity="0.8"/>
<rect x="241.80" y="122.00" width="1.15" height="0.37" fill="#2e4bff" />
<rect x="244.70" y="122.00" width="1.15" height="8.00" fill="#2e4bff" />
<rect x="244.65" y="129.50" width="1.25" height="1.20" fill="#2a2a3a" opacity="0.8"/>
<rect x="246.15" y="122.00" width="1.15" height="1.50" fill="#2e4bff" />
<rect x="246.10" y="123.00" width="1.25" height="1.20" fill="#2a2a3a" opacity="0.8"/>
<text x="-0.60" y="212.10" font-size="11" text-anchor="start" fill="#000" font-weight="bold" stroke="#000" stroke-width="0.6">c</text>
<line x1="32.50" y1="230.75" x2="32.50" y2="297.50" stroke="#8a8a8a" stroke-width="0.8" />
<line x1="29.60" y1="230.75" x2="32.50" y2="230.75" stroke="#8a8a8a" stroke-width="0.8" />
<text x="26.70" y="233.65" font-size="8" text-anchor="end" fill="#111" font-weight="normal" >5</text>
<line x1="29.60" y1="253.00" x2="32.50" y2="253.00" stroke="#8a8a8a" stroke-width="0.8" />
<text x="26.70" y="255.90" font-size="8" text-anchor="end" fill="#111" font-weight="normal" >0</text>
<line x1="29.60" y1="275.25" x2="32.50" y2="275.25" stroke="#8a8a8a" stroke-width="0.8" />
<text x="26.70" y="278.15" font-size="8" text-anchor="end" fill="#111" font-weight="normal" >&#8722;5</text>
<line x1="29.60" y1="297.50" x2="32.50" y2="297.50" stroke="#8a8a8a" stroke-width="0.8" />
<text x="26.70" y="300.40" font-size="8" text-anchor="end" fill="#111" font-weight="normal" >&#8722;10</text>
<text transform="translate(6.8,263.00) rotate(-90)" font-size="8" text-anchor="middle" fill="#111">Relative V&#954; joining (%)</text>
<text x="36.20" y="241.10" font-size="7.4" text-anchor="start" fill="#ff2a2a" font-weight="normal" >Inv (+)</text>
<text x="35.10" y="297.60" font-size="7.4" text-anchor="start" fill="#2a3aff" font-weight="normal" >Del (&#8211;)</text>
<text x="151.90" y="287.20" font-size="8" text-anchor="middle" fill="#111" font-weight="normal" >J&#954;4 bait</text>
<text x="152.90" y="298.00" font-size="8" text-anchor="middle" fill="#111" font-weight="normal" >46,717 &#177; 1,950 junctions</text>
<line x1="32.50" y1="253.00" x2="248.60" y2="253.00" stroke="#555" stroke-width="0.8" />
<rect x="33.00" y="253.00" width="1.15" height="6.10" fill="#2e4bff" />
<rect x="32.95" y="258.60" width="1.25" height="1.20" fill="#2a2a3a" opacity="0.8"/>
<rect x="34.45" y="253.00" width="1.15" height="2.08" fill="#2e4bff" />
<rect x="34.40" y="254.58" width="1.25" height="1.20" fill="#2a2a3a" opacity="0.8"/>
<rect x="35.90" y="253.00" width="1.15" height="7.70" fill="#2e4bff" />
<rect x="35.85" y="260.20" width="1.25" height="1.20" fill="#2a2a3a" opacity="0.8"/>
<rect x="37.35" y="253.00" width="1.15" height="1.13" fill="#2e4bff" />
<rect x="38.80" y="253.00" width="1.15" height="1.90" fill="#2e4bff" />
<rect x="38.75" y="254.40" width="1.25" height="1.20" fill="#2a2a3a" opacity="0.8"/>
<rect x="40.25" y="253.00" width="1.15" height="2.10" fill="#2e4bff" />
<rect x="40.20" y="254.60" width="1.25" height="1.20" fill="#2a2a3a" opacity="0.8"/>
<rect x="41.70" y="253.00" width="1.15" height="1.01" fill="#2e4bff" />
<rect x="43.15" y="253.00" width="1.15" height="2.13" fill="#2e4bff" />
<rect x="43.10" y="254.63" width="1.25" height="1.20" fill="#2a2a3a" opacity="0.8"/>
<rect x="44.60" y="253.00" width="1.15" height="1.10" fill="#2e4bff" />
<rect x="47.50" y="253.00" width="1.15" height="7.70" fill="#2e4bff" />
<rect x="47.45" y="260.20" width="1.25" height="1.20" fill="#2a2a3a" opacity="0.8"/>
<rect x="48.95" y="253.00" width="1.15" height="5.30" fill="#2e4bff" />
<rect x="48.90" y="257.80" width="1.25" height="1.20" fill="#2a2a3a" opacity="0.8"/>
<rect x="50.40" y="253.00" width="1.15" height="5.30" fill="#2e4bff" />
<rect x="50.35" y="257.80" width="1.25" height="1.20" fill="#2a2a3a" opacity="0.8"/>
<rect x="51.85" y="253.00" width="1.15" height="5.30" fill="#2e4bff" />
<rect x="51.80" y="257.80" width="1.25" height="1.20" fill="#2a2a3a" opacity="0.8"/>
<rect x="53.30" y="253.00" width="1.15" height="0.63" fill="#2e4bff" />
<rect x="54.75" y="253.00" width="1.15" height="1.40" fill="#2e4bff" />
<rect x="54.70" y="253.90" width="1.25" height="1.20" fill="#2a2a3a" opacity="0.8"/>
<rect x="56.20" y="253.00" width="1.15" height="9.30" fill="#2e4bff" />
<rect x="56.15" y="261.80" width="1.25" height="1.20" fill="#2a2a3a" opacity="0.8"/>
<rect x="57.65" y="253.00" width="1.15" height="9.30" fill="#2e4bff" />
<rect x="57.60" y="261.80" width="1.25" height="1.20" fill="#2a2a3a" opacity="0.8"/>
<rect x="59.10" y="253.00" width="1.15" height="0.92" fill="#2e4bff" />
<rect x="60.55" y="253.00" width="1.15" height="1.63" fill="#2e4bff" />
<rect x="60.50" y="254.13" width="1.25" height="1.20" fill="#2a2a3a" opacity="0.8"/>
<rect x="62.00" y="253.00" width="1.15" height="1.25" fill="#2e4bff" />
<rect x="61.95" y="253.75" width="1.25" height="1.20" fill="#2a2a3a" opacity="0.8"/>
<rect x="64.90" y="253.00" width="1.15" height="6.10" fill="#2e4bff" />
<rect x="64.85" y="258.60" width="1.25" height="1.20" fill="#2a2a3a" opacity="0.8"/>
<rect x="67.80" y="253.00" width="1.15" height="1.84" fill="#2e4bff" />
<rect x="67.75" y="254.34" width="1.25" height="1.20" fill="#2a2a3a" opacity="0.8"/>
<rect x="69.25" y="253.00" width="1.15" height="0.85" fill="#2e4bff" />
<rect x="70.70" y="253.00" width="1.15" height="8.20" fill="#2e4bff" />
<rect x="70.65" y="260.70" width="1.25" height="1.20" fill="#2a2a3a" opacity="0.8"/>
<rect x="72.15" y="253.00" width="1.15" height="8.20" fill="#2e4bff" />
<rect x="72.10" y="260.70" width="1.25" height="1.20" fill="#2a2a3a" opacity="0.8"/>
<rect x="73.60" y="253.00" width="1.15" height="8.20" fill="#2e4bff" />
<rect x="73.55" y="260.70" width="1.25" height="1.20" fill="#2a2a3a" opacity="0.8"/>
<rect x="75.05" y="253.00" width="1.15" height="0.63" fill="#2e4bff" />
<rect x="80.85" y="253.00" width="1.15" height="1.75" fill="#2e4bff" />
<rect x="80.80" y="254.25" width="1.25" height="1.20" fill="#2a2a3a" opacity="0.8"/>
<rect x="82.30" y="253.00" width="1.15" height="4.60" fill="#2e4bff" />
<rect x="82.25" y="257.10" width="1.25" height="1.20" fill="#2a2a3a" opacity="0.8"/>
<rect x="83.75" y="253.00" width="1.15" height="1.91" fill="#2e4bff" />
<rect x="83.70" y="254.41" width="1.25" height="1.20" fill="#2a2a3a" opacity="0.8"/>
<rect x="85.20" y="253.00" width="1.15" height="2.40" fill="#2e4bff" />
<rect x="85.15" y="254.90" width="1.25" height="1.20" fill="#2a2a3a" opacity="0.8"/>
<rect x="86.65" y="253.00" width="1.15" height="1.58" fill="#2e4bff" />
<rect x="86.60" y="254.08" width="1.25" height="1.20" fill="#2a2a3a" opacity="0.8"/>
<rect x="95.35" y="247.20" width="1.15" height="5.80" fill="#ff3a1c" />
<rect x="95.30" y="246.50" width="1.25" height="1.20" fill="#3a2a2a" opacity="0.8"/>
<rect x="98.25" y="253.00" width="1.15" height="1.50" fill="#2e4bff" />
<rect x="98.20" y="254.00" width="1.25" height="1.20" fill="#2a2a3a" opacity="0.8"/>
<rect x="99.70" y="251.98" width="1.15" height="1.02" fill="#ff3a1c" />
<rect x="102.60" y="245.60" width="1.15" height="7.40" fill="#ff3a1c" />
<rect x="102.55" y="244.90" width="1.25" height="1.20" fill="#3a2a2a" opacity="0.8"/>
<rect x="105.50" y="251.85" width="1.15" height="1.15" fill="#ff3a1c" />
<rect x="108.40" y="250.00" width="1.15" height="3.00" fill="#ff3a1c" />
<rect x="108.35" y="249.30" width="1.25" height="1.20" fill="#3a2a2a" opacity="0.8"/>
<rect x="112.75" y="245.60" width="1.15" height="7.40" fill="#ff3a1c" />
<rect x="112.70" y="244.90" width="1.25" height="1.20" fill="#3a2a2a" opacity="0.8"/>
<rect x="114.20" y="252.10" width="1.15" height="0.90" fill="#ff3a1c" />
<rect x="117.10" y="252.03" width="1.15" height="0.97" fill="#ff3a1c" />
<rect x="121.45" y="250.00" width="1.15" height="3.00" fill="#ff3a1c" />
<rect x="121.40" y="249.30" width="1.25" height="1.20" fill="#3a2a2a" opacity="0.8"/>
<rect x="124.35" y="245.90" width="1.15" height="7.10" fill="#ff3a1c" />
<rect x="124.30" y="245.20" width="1.25" height="1.20" fill="#3a2a2a" opacity="0.8"/>
<rect x="125.80" y="251.92" width="1.15" height="1.08" fill="#ff3a1c" />
<rect x="128.70" y="241.50" width="1.15" height="11.50" fill="#ff3a1c" />
<rect x="128.65" y="240.80" width="1.25" height="1.20" fill="#3a2a2a" opacity="0.8"/>
<rect x="130.15" y="251.79" width="1.15" height="1.21" fill="#ff3a1c" />
<rect x="130.10" y="251.09" width="1.25" height="1.20" fill="#3a2a2a" opacity="0.8"/>
<rect x="131.60" y="249.50" width="1.15" height="3.50" fill="#ff3a1c" />
<rect x="131.55" y="248.80" width="1.25" height="1.20" fill="#3a2a2a" opacity="0.8"/>
<rect x="133.05" y="249.50" width="1.15" height="3.50" fill="#ff3a1c" />
<rect x="133.00" y="248.80" width="1.25" height="1.20" fill="#3a2a2a" opacity="0.8"/>
<rect x="134.50" y="251.90" width="1.15" height="1.10" fill="#ff3a1c" />
<rect x="135.95" y="244.30" width="1.15" height="8.70" fill="#ff3a1c" />
<rect x="135.90" y="243.60" width="1.25" height="1.20" fill="#3a2a2a" opacity="0.8"/>
<rect x="137.40" y="246.90" width="1.15" height="6.10" fill="#ff3a1c" />
<rect x="137.35" y="246.20" width="1.25" height="1.20" fill="#3a2a2a" opacity="0.8"/>
<rect x="138.85" y="252.08" width="1.15" height="0.92" fill="#ff3a1c" />
<rect x="140.30" y="246.00" width="1.15" height="7.00" fill="#ff3a1c" />
<rect x="140.25" y="245.30" width="1.25" height="1.20" fill="#3a2a2a" opacity="0.8"/>
<rect x="141.75" y="246.00" width="1.15" height="7.00" fill="#ff3a1c" />
<rect x="141.70" y="245.30" width="1.25" height="1.20" fill="#3a2a2a" opacity="0.8"/>
<rect x="143.20" y="246.00" width="1.15" height="7.00" fill="#ff3a1c" />
<rect x="143.15" y="245.30" width="1.25" height="1.20" fill="#3a2a2a" opacity="0.8"/>
<rect x="144.65" y="246.00" width="1.15" height="7.00" fill="#ff3a1c" />
<rect x="144.60" y="245.30" width="1.25" height="1.20" fill="#3a2a2a" opacity="0.8"/>
<rect x="147.55" y="251.96" width="1.15" height="1.04" fill="#ff3a1c" />
<rect x="153.35" y="252.79" width="1.15" height="0.21" fill="#ff3a1c" />
<rect x="154.80" y="251.99" width="1.15" height="1.01" fill="#ff3a1c" />
<rect x="156.25" y="246.40" width="1.15" height="6.60" fill="#ff3a1c" />
<rect x="156.20" y="245.70" width="1.25" height="1.20" fill="#3a2a2a" opacity="0.8"/>
<rect x="157.70" y="252.60" width="1.15" height="0.40" fill="#ff3a1c" />
<rect x="159.15" y="250.00" width="1.15" height="3.00" fill="#ff3a1c" />
<rect x="159.10" y="249.30" width="1.25" height="1.20" fill="#3a2a2a" opacity="0.8"/>
<rect x="163.50" y="251.73" width="1.15" height="1.27" fill="#ff3a1c" />
<rect x="163.45" y="251.03" width="1.25" height="1.20" fill="#3a2a2a" opacity="0.8"/>
<rect x="164.95" y="244.30" width="1.15" height="8.70" fill="#ff3a1c" />
<rect x="164.90" y="243.60" width="1.25" height="1.20" fill="#3a2a2a" opacity="0.8"/>
<rect x="166.40" y="252.00" width="1.15" height="1.00" fill="#ff3a1c" />
<rect x="167.85" y="250.50" width="1.15" height="2.50" fill="#ff3a1c" />
<rect x="167.80" y="249.80" width="1.25" height="1.20" fill="#3a2a2a" opacity="0.8"/>
<rect x="169.30" y="252.28" width="1.15" height="0.72" fill="#ff3a1c" />
<rect x="170.75" y="246.00" width="1.15" height="7.00" fill="#ff3a1c" />
<rect x="170.70" y="245.30" width="1.25" height="1.20" fill="#3a2a2a" opacity="0.8"/>
<rect x="173.65" y="248.50" width="1.15" height="4.50" fill="#ff3a1c" />
<rect x="173.60" y="247.80" width="1.25" height="1.20" fill="#3a2a2a" opacity="0.8"/>
<rect x="175.10" y="248.50" width="1.15" height="4.50" fill="#ff3a1c" />
<rect x="175.05" y="247.80" width="1.25" height="1.20" fill="#3a2a2a" opacity="0.8"/>
<rect x="176.55" y="245.70" width="1.15" height="7.30" fill="#ff3a1c" />
<rect x="176.50" y="245.00" width="1.25" height="1.20" fill="#3a2a2a" opacity="0.8"/>
<rect x="179.45" y="245.10" width="1.15" height="7.90" fill="#ff3a1c" />
<rect x="179.40" y="244.40" width="1.25" height="1.20" fill="#3a2a2a" opacity="0.8"/>
<rect x="182.35" y="248.50" width="1.15" height="4.50" fill="#ff3a1c" />
<rect x="182.30" y="247.80" width="1.25" height="1.20" fill="#3a2a2a" opacity="0.8"/>
<rect x="183.80" y="252.10" width="1.15" height="0.90" fill="#ff3a1c" />
<rect x="185.25" y="243.40" width="1.15" height="9.60" fill="#ff3a1c" />
<rect x="185.20" y="242.70" width="1.25" height="1.20" fill="#3a2a2a" opacity="0.8"/>
<rect x="186.70" y="249.00" width="1.15" height="4.00" fill="#ff3a1c" />
<rect x="186.65" y="248.30" width="1.25" height="1.20" fill="#3a2a2a" opacity="0.8"/>
<rect x="188.15" y="252.64" width="1.15" height="0.36" fill="#ff3a1c" />
<rect x="189.60" y="249.00" width="1.15" height="4.00" fill="#ff3a1c" />
<rect x="189.55" y="248.30" width="1.25" height="1.20" fill="#3a2a2a" opacity="0.8"/>
<rect x="192.50" y="245.70" width="1.15" height="7.30" fill="#ff3a1c" />
<rect x="192.45" y="245.00" width="1.25" height="1.20" fill="#3a2a2a" opacity="0.8"/>
<rect x="199.75" y="252.60" width="1.15" height="0.40" fill="#ff3a1c" />
<rect x="202.65" y="245.10" width="1.15" height="7.90" fill="#ff3a1c" />
<rect x="202.60" y="244.40" width="1.25" height="1.20" fill="#3a2a2a" opacity="0.8"/>
<rect x="204.10" y="243.90" width="1.15" height="9.10" fill="#ff3a1c" />
<rect x="204.05" y="243.20" width="1.25" height="1.20" fill="#3a2a2a" opacity="0.8"/>
<rect x="205.55" y="252.54" width="1.15" height="0.46" fill="#ff3a1c" />
<rect x="207.00" y="252.05" width="1.15" height="0.95" fill="#ff3a1c" />
<rect x="208.45" y="241.60" width="1.15" height="11.40" fill="#ff3a1c" />
<rect x="208.40" y="240.90" width="1.25" height="1.20" fill="#3a2a2a" opacity="0.8"/>
<rect x="209.90" y="253.00" width="1.15" height="2.70" fill="#2e4bff" />
<rect x="209.85" y="255.20" width="1.25" height="1.20" fill="#2a2a3a" opacity="0.8"/>
<rect x="211.35" y="245.70" width="1.15" height="7.30" fill="#ff3a1c" />
<rect x="211.30" y="245.00" width="1.25" height="1.20" fill="#3a2a2a" opacity="0.8"/>
<rect x="212.80" y="252.16" width="1.15" height="0.84" fill="#ff3a1c" />
<rect x="215.70" y="245.70" width="1.15" height="7.30" fill="#ff3a1c" />
<rect x="215.65" y="245.00" width="1.25" height="1.20" fill="#3a2a2a" opacity="0.8"/>
<rect x="218.60" y="252.57" width="1.15" height="0.43" fill="#ff3a1c" />
<rect x="220.05" y="246.90" width="1.15" height="6.10" fill="#ff3a1c" />
<rect x="220.00" y="246.20" width="1.25" height="1.20" fill="#3a2a2a" opacity="0.8"/>
<rect x="221.50" y="251.22" width="1.15" height="1.78" fill="#ff3a1c" />
<rect x="221.45" y="250.52" width="1.25" height="1.20" fill="#3a2a2a" opacity="0.8"/>
<rect x="222.95" y="253.00" width="1.15" height="6.20" fill="#2e4bff" />
<rect x="222.90" y="258.70" width="1.25" height="1.20" fill="#2a2a3a" opacity="0.8"/>
<rect x="224.40" y="251.50" width="1.15" height="1.50" fill="#ff3a1c" />
<rect x="224.35" y="250.80" width="1.25" height="1.20" fill="#3a2a2a" opacity="0.8"/>
<rect x="225.85" y="246.00" width="1.15" height="7.00" fill="#ff3a1c" />
<rect x="225.80" y="245.30" width="1.25" height="1.20" fill="#3a2a2a" opacity="0.8"/>
<rect x="227.30" y="252.17" width="1.15" height="0.83" fill="#ff3a1c" />
<rect x="230.20" y="253.00" width="1.15" height="9.70" fill="#2e4bff" />
<rect x="230.15" y="262.20" width="1.25" height="1.20" fill="#2a2a3a" opacity="0.8"/>
<rect x="231.65" y="253.00" width="1.15" height="0.53" fill="#2e4bff" />
<rect x="233.10" y="253.00" width="1.15" height="4.40" fill="#2e4bff" />
<rect x="233.05" y="256.90" width="1.25" height="1.20" fill="#2a2a3a" opacity="0.8"/>
<rect x="234.55" y="253.00" width="1.15" height="0.34" fill="#2e4bff" />
<rect x="237.45" y="253.00" width="1.15" height="11.40" fill="#2e4bff" />
<rect x="237.40" y="263.90" width="1.25" height="1.20" fill="#2a2a3a" opacity="0.8"/>
<rect x="238.90" y="253.00" width="1.15" height="0.54" fill="#2e4bff" />
<rect x="240.35" y="253.00" width="1.15" height="3.00" fill="#2e4bff" />
<rect x="240.30" y="255.50" width="1.25" height="1.20" fill="#2a2a3a" opacity="0.8"/>
<rect x="241.80" y="253.00" width="1.15" height="1.37" fill="#2e4bff" />
<rect x="241.75" y="253.87" width="1.25" height="1.20" fill="#2a2a3a" opacity="0.8"/>
<rect x="243.25" y="253.00" width="1.15" height="5.30" fill="#2e4bff" />
<rect x="243.20" y="257.80" width="1.25" height="1.20" fill="#2a2a3a" opacity="0.8"/>
<rect x="244.70" y="253.00" width="1.15" height="3.00" fill="#2e4bff" />
<rect x="244.65" y="255.50" width="1.25" height="1.20" fill="#2a2a3a" opacity="0.8"/>
<rect x="246.15" y="253.00" width="1.15" height="1.37" fill="#2e4bff" />
<rect x="246.10" y="253.87" width="1.25" height="1.20" fill="#2a2a3a" opacity="0.8"/>
<text x="-0.60" y="346.90" font-size="11" text-anchor="start" fill="#000" font-weight="bold" stroke="#000" stroke-width="0.6">d</text>
<line x1="32.50" y1="361.15" x2="32.50" y2="427.90" stroke="#8a8a8a" stroke-width="0.8" />
<line x1="29.60" y1="361.15" x2="32.50" y2="361.15" stroke="#8a8a8a" stroke-width="0.8" />
<text x="26.70" y="364.05" font-size="8" text-anchor="end" fill="#111" font-weight="normal" >5</text>
<line x1="29.60" y1="383.40" x2="32.50" y2="383.40" stroke="#8a8a8a" stroke-width="0.8" />
<text x="26.70" y="386.30" font-size="8" text-anchor="end" fill="#111" font-weight="normal" >0</text>
<line x1="29.60" y1="405.65" x2="32.50" y2="405.65" stroke="#8a8a8a" stroke-width="0.8" />
<text x="26.70" y="408.55" font-size="8" text-anchor="end" fill="#111" font-weight="normal" >&#8722;5</text>
<line x1="29.60" y1="427.90" x2="32.50" y2="427.90" stroke="#8a8a8a" stroke-width="0.8" />
<text x="26.70" y="430.80" font-size="8" text-anchor="end" fill="#111" font-weight="normal" >&#8722;10</text>
<text transform="translate(6.8,393.40) rotate(-90)" font-size="8" text-anchor="middle" fill="#111">Relative V&#954; joining (%)</text>
<text x="36.40" y="372.80" font-size="7.4" text-anchor="start" fill="#ff2a2a" font-weight="normal" >Inv (+)</text>
<text x="36.20" y="429.70" font-size="7.4" text-anchor="start" fill="#2a3aff" font-weight="normal" >Del (&#8211;)</text>
<text x="151.90" y="422.20" font-size="8" text-anchor="middle" fill="#111" font-weight="normal" >J&#954;5 bait</text>
<text x="152.90" y="433.00" font-size="8" text-anchor="middle" fill="#111" font-weight="normal" >21,486 &#177; 515 junctions</text>
<line x1="32.50" y1="383.40" x2="248.60" y2="383.40" stroke="#555" stroke-width="0.8" />
<rect x="33.00" y="383.40" width="1.15" height="8.20" fill="#2e4bff" />
<rect x="32.95" y="391.10" width="1.25" height="1.20" fill="#2a2a3a" opacity="0.8"/>
<rect x="34.45" y="383.40" width="1.15" height="2.05" fill="#2e4bff" />
<rect x="34.40" y="384.95" width="1.25" height="1.20" fill="#2a2a3a" opacity="0.8"/>
<rect x="35.90" y="383.40" width="1.15" height="15.00" fill="#2e4bff" />
<rect x="35.85" y="397.90" width="1.25" height="1.20" fill="#2a2a3a" opacity="0.8"/>
<rect x="38.80" y="383.40" width="1.15" height="0.96" fill="#2e4bff" />
<rect x="40.25" y="383.40" width="1.15" height="3.60" fill="#2e4bff" />
<rect x="40.20" y="386.50" width="1.25" height="1.20" fill="#2a2a3a" opacity="0.8"/>
<rect x="41.70" y="383.40" width="1.15" height="0.92" fill="#2e4bff" />
<rect x="43.15" y="383.40" width="1.15" height="1.45" fill="#2e4bff" />
<rect x="43.10" y="384.35" width="1.25" height="1.20" fill="#2a2a3a" opacity="0.8"/>
<rect x="46.05" y="383.40" width="1.15" height="1.09" fill="#2e4bff" />
<rect x="47.50" y="383.40" width="1.15" height="6.90" fill="#2e4bff" />
<rect x="47.45" y="389.80" width="1.25" height="1.20" fill="#2a2a3a" opacity="0.8"/>
<rect x="48.95" y="383.40" width="1.15" height="1.86" fill="#2e4bff" />
<rect x="48.90" y="384.76" width="1.25" height="1.20" fill="#2a2a3a" opacity="0.8"/>
<rect x="50.40" y="383.40" width="1.15" height="6.90" fill="#2e4bff" />
<rect x="50.35" y="389.80" width="1.25" height="1.20" fill="#2a2a3a" opacity="0.8"/>
<rect x="51.85" y="383.40" width="1.15" height="6.90" fill="#2e4bff" />
<rect x="51.80" y="389.80" width="1.25" height="1.20" fill="#2a2a3a" opacity="0.8"/>
<rect x="53.30" y="383.40" width="1.15" height="1.71" fill="#2e4bff" />
<rect x="53.25" y="384.61" width="1.25" height="1.20" fill="#2a2a3a" opacity="0.8"/>
<rect x="56.20" y="383.40" width="1.15" height="9.30" fill="#2e4bff" />
<rect x="56.15" y="392.20" width="1.25" height="1.20" fill="#2a2a3a" opacity="0.8"/>
<rect x="57.65" y="383.40" width="1.15" height="9.30" fill="#2e4bff" />
<rect x="57.60" y="392.20" width="1.25" height="1.20" fill="#2a2a3a" opacity="0.8"/>
<rect x="59.10" y="383.40" width="1.15" height="2.03" fill="#2e4bff" />
<rect x="59.05" y="384.93" width="1.25" height="1.20" fill="#2a2a3a" opacity="0.8"/>
<rect x="62.00" y="383.40" width="1.15" height="2.28" fill="#2e4bff" />
<rect x="61.95" y="385.18" width="1.25" height="1.20" fill="#2a2a3a" opacity="0.8"/>
<rect x="64.90" y="383.40" width="1.15" height="7.70" fill="#2e4bff" />
<rect x="64.85" y="390.60" width="1.25" height="1.20" fill="#2a2a3a" opacity="0.8"/>
<rect x="66.35" y="383.40" width="1.15" height="1.42" fill="#2e4bff" />
<rect x="66.30" y="384.32" width="1.25" height="1.20" fill="#2a2a3a" opacity="0.8"/>
<rect x="67.80" y="383.40" width="1.15" height="2.24" fill="#2e4bff" />
<rect x="67.75" y="385.14" width="1.25" height="1.20" fill="#2a2a3a" opacity="0.8"/>
<rect x="69.25" y="383.40" width="1.15" height="1.62" fill="#2e4bff" />
<rect x="69.20" y="384.52" width="1.25" height="1.20" fill="#2a2a3a" opacity="0.8"/>
<rect x="72.15" y="383.40" width="1.15" height="10.90" fill="#2e4bff" />
<rect x="72.10" y="393.80" width="1.25" height="1.20" fill="#2a2a3a" opacity="0.8"/>
<rect x="73.60" y="383.40" width="1.15" height="10.90" fill="#2e4bff" />
<rect x="73.55" y="393.80" width="1.25" height="1.20" fill="#2a2a3a" opacity="0.8"/>
<rect x="77.95" y="383.40" width="1.15" height="1.77" fill="#2e4bff" />
<rect x="77.90" y="384.67" width="1.25" height="1.20" fill="#2a2a3a" opacity="0.8"/>
<rect x="79.40" y="383.40" width="1.15" height="1.90" fill="#2e4bff" />
<rect x="79.35" y="384.80" width="1.25" height="1.20" fill="#2a2a3a" opacity="0.8"/>
<rect x="82.30" y="383.40" width="1.15" height="6.10" fill="#2e4bff" />
<rect x="82.25" y="389.00" width="1.25" height="1.20" fill="#2a2a3a" opacity="0.8"/>
<rect x="83.75" y="383.40" width="1.15" height="1.89" fill="#2e4bff" />
<rect x="83.70" y="384.79" width="1.25" height="1.20" fill="#2a2a3a" opacity="0.8"/>
<rect x="85.20" y="383.40" width="1.15" height="2.22" fill="#2e4bff" />
<rect x="85.15" y="385.12" width="1.25" height="1.20" fill="#2a2a3a" opacity="0.8"/>
<rect x="89.55" y="383.40" width="1.15" height="2.02" fill="#2e4bff" />
<rect x="89.50" y="384.92" width="1.25" height="1.20" fill="#2a2a3a" opacity="0.8"/>
<rect x="91.00" y="383.40" width="1.15" height="2.24" fill="#2e4bff" />
<rect x="90.95" y="385.14" width="1.25" height="1.20" fill="#2a2a3a" opacity="0.8"/>
<rect x="93.90" y="383.40" width="1.15" height="0.75" fill="#2e4bff" />
<rect x="95.35" y="379.10" width="1.15" height="4.30" fill="#ff3a1c" />
<rect x="95.30" y="378.40" width="1.25" height="1.20" fill="#3a2a2a" opacity="0.8"/>
<rect x="96.80" y="382.54" width="1.15" height="0.86" fill="#ff3a1c" />
<rect x="101.15" y="382.23" width="1.15" height="1.17" fill="#ff3a1c" />
<rect x="102.60" y="373.50" width="1.15" height="9.90" fill="#ff3a1c" />
<rect x="102.55" y="372.80" width="1.25" height="1.20" fill="#3a2a2a" opacity="0.8"/>
<rect x="104.05" y="379.90" width="1.15" height="3.50" fill="#ff3a1c" />
<rect x="104.00" y="379.20" width="1.25" height="1.20" fill="#3a2a2a" opacity="0.8"/>
<rect x="105.50" y="382.24" width="1.15" height="1.16" fill="#ff3a1c" />
<rect x="106.95" y="382.80" width="1.15" height="0.60" fill="#ff3a1c" />
<rect x="109.85" y="378.40" width="1.15" height="5.00" fill="#ff3a1c" />
<rect x="109.80" y="377.70" width="1.25" height="1.20" fill="#3a2a2a" opacity="0.8"/>
<rect x="111.30" y="383.02" width="1.15" height="0.38" fill="#ff3a1c" />
<rect x="114.20" y="375.00" width="1.15" height="8.40" fill="#ff3a1c" />
<rect x="114.15" y="374.30" width="1.25" height="1.20" fill="#3a2a2a" opacity="0.8"/>
<rect x="121.45" y="379.90" width="1.15" height="3.50" fill="#ff3a1c" />
<rect x="121.40" y="379.20" width="1.25" height="1.20" fill="#3a2a2a" opacity="0.8"/>
<rect x="124.35" y="378.40" width="1.15" height="5.00" fill="#ff3a1c" />
<rect x="124.30" y="377.70" width="1.25" height="1.20" fill="#3a2a2a" opacity="0.8"/>
<rect x="127.25" y="382.93" width="1.15" height="0.47" fill="#ff3a1c" />
<rect x="128.70" y="369.10" width="1.15" height="14.30" fill="#ff3a1c" />
<rect x="128.65" y="368.40" width="1.25" height="1.20" fill="#3a2a2a" opacity="0.8"/>
<rect x="130.15" y="379.40" width="1.15" height="4.00" fill="#ff3a1c" />
<rect x="130.10" y="378.70" width="1.25" height="1.20" fill="#3a2a2a" opacity="0.8"/>
<rect x="133.05" y="377.90" width="1.15" height="5.50" fill="#ff3a1c" />
<rect x="133.00" y="377.20" width="1.25" height="1.20" fill="#3a2a2a" opacity="0.8"/>
<rect x="134.50" y="382.33" width="1.15" height="1.07" fill="#ff3a1c" />
<rect x="135.95" y="378.40" width="1.15" height="5.00" fill="#ff3a1c" />
<rect x="135.90" y="377.70" width="1.25" height="1.20" fill="#3a2a2a" opacity="0.8"/>
<rect x="137.40" y="378.90" width="1.15" height="4.50" fill="#ff3a1c" />
<rect x="137.35" y="378.20" width="1.25" height="1.20" fill="#3a2a2a" opacity="0.8"/>
<rect x="141.75" y="378.90" width="1.15" height="4.50" fill="#ff3a1c" />
<rect x="141.70" y="378.20" width="1.25" height="1.20" fill="#3a2a2a" opacity="0.8"/>
<rect x="143.20" y="378.90" width="1.15" height="4.50" fill="#ff3a1c" />
<rect x="143.15" y="378.20" width="1.25" height="1.20" fill="#3a2a2a" opacity="0.8"/>
<rect x="147.55" y="382.74" width="1.15" height="0.66" fill="#ff3a1c" />
<rect x="151.90" y="382.18" width="1.15" height="1.22" fill="#ff3a1c" />
<rect x="151.85" y="381.48" width="1.25" height="1.20" fill="#3a2a2a" opacity="0.8"/>
<rect x="156.25" y="379.90" width="1.15" height="3.50" fill="#ff3a1c" />
<rect x="156.20" y="379.20" width="1.25" height="1.20" fill="#3a2a2a" opacity="0.8"/>
<rect x="159.15" y="382.56" width="1.15" height="0.84" fill="#ff3a1c" />
<rect x="160.60" y="380.90" width="1.15" height="2.50" fill="#ff3a1c" />
<rect x="160.55" y="380.20" width="1.25" height="1.20" fill="#3a2a2a" opacity="0.8"/>
<rect x="162.05" y="380.90" width="1.15" height="2.50" fill="#ff3a1c" />
<rect x="162.00" y="380.20" width="1.25" height="1.20" fill="#3a2a2a" opacity="0.8"/>
<rect x="164.95" y="372.90" width="1.15" height="10.50" fill="#ff3a1c" />
<rect x="164.90" y="372.20" width="1.25" height="1.20" fill="#3a2a2a" opacity="0.8"/>
<rect x="167.85" y="380.40" width="1.15" height="3.00" fill="#ff3a1c" />
<rect x="167.80" y="379.70" width="1.25" height="1.20" fill="#3a2a2a" opacity="0.8"/>
<rect x="169.30" y="382.04" width="1.15" height="1.36" fill="#ff3a1c" />
<rect x="169.25" y="381.34" width="1.25" height="1.20" fill="#3a2a2a" opacity="0.8"/>
<rect x="170.75" y="377.90" width="1.15" height="5.50" fill="#ff3a1c" />
<rect x="170.70" y="377.20" width="1.25" height="1.20" fill="#3a2a2a" opacity="0.8"/>
<rect x="173.65" y="379.40" width="1.15" height="4.00" fill="#ff3a1c" />
<rect x="173.60" y="378.70" width="1.25" height="1.20" fill="#3a2a2a" opacity="0.8"/>
<rect x="175.10" y="379.40" width="1.15" height="4.00" fill="#ff3a1c" />
<rect x="175.05" y="378.70" width="1.25" height="1.20" fill="#3a2a2a" opacity="0.8"/>
<rect x="176.55" y="372.90" width="1.15" height="10.50" fill="#ff3a1c" />
<rect x="176.50" y="372.20" width="1.25" height="1.20" fill="#3a2a2a" opacity="0.8"/>
<rect x="178.00" y="382.24" width="1.15" height="1.16" fill="#ff3a1c" />
<rect x="179.45" y="372.60" width="1.15" height="10.80" fill="#ff3a1c" />
<rect x="179.40" y="371.90" width="1.25" height="1.20" fill="#3a2a2a" opacity="0.8"/>
<rect x="182.35" y="373.80" width="1.15" height="9.60" fill="#ff3a1c" />
<rect x="182.30" y="373.10" width="1.25" height="1.20" fill="#3a2a2a" opacity="0.8"/>
<rect x="185.25" y="374.30" width="1.15" height="9.10" fill="#ff3a1c" />
<rect x="185.20" y="373.60" width="1.25" height="1.20" fill="#3a2a2a" opacity="0.8"/>
<rect x="188.15" y="378.90" width="1.15" height="4.50" fill="#ff3a1c" />
<rect x="188.10" y="378.20" width="1.25" height="1.20" fill="#3a2a2a" opacity="0.8"/>
<rect x="189.60" y="382.55" width="1.15" height="0.85" fill="#ff3a1c" />
<rect x="191.05" y="377.90" width="1.15" height="5.50" fill="#ff3a1c" />
<rect x="191.00" y="377.20" width="1.25" height="1.20" fill="#3a2a2a" opacity="0.8"/>
<rect x="192.50" y="372.00" width="1.15" height="11.40" fill="#ff3a1c" />
<rect x="192.45" y="371.30" width="1.25" height="1.20" fill="#3a2a2a" opacity="0.8"/>
<rect x="193.95" y="382.05" width="1.15" height="1.35" fill="#ff3a1c" />
<rect x="193.90" y="381.35" width="1.25" height="1.20" fill="#3a2a2a" opacity="0.8"/>
<rect x="196.85" y="381.40" width="1.15" height="2.00" fill="#ff3a1c" />
<rect x="196.80" y="380.70" width="1.25" height="1.20" fill="#3a2a2a" opacity="0.8"/>
<rect x="198.30" y="382.63" width="1.15" height="0.77" fill="#ff3a1c" />
<rect x="199.75" y="380.40" width="1.15" height="3.00" fill="#ff3a1c" />
<rect x="199.70" y="379.70" width="1.25" height="1.20" fill="#3a2a2a" opacity="0.8"/>
<rect x="201.20" y="382.68" width="1.15" height="0.72" fill="#ff3a1c" />
<rect x="202.65" y="373.80" width="1.15" height="9.60" fill="#ff3a1c" />
<rect x="202.60" y="373.10" width="1.25" height="1.20" fill="#3a2a2a" opacity="0.8"/>
<rect x="204.10" y="374.30" width="1.15" height="9.10" fill="#ff3a1c" />
<rect x="204.05" y="373.60" width="1.25" height="1.20" fill="#3a2a2a" opacity="0.8"/>
<rect x="208.45" y="371.50" width="1.15" height="11.90" fill="#ff3a1c" />
<rect x="208.40" y="370.80" width="1.25" height="1.20" fill="#3a2a2a" opacity="0.8"/>
<rect x="211.35" y="383.40" width="1.15" height="4.40" fill="#2e4bff" />
<rect x="211.30" y="387.30" width="1.25" height="1.20" fill="#2a2a3a" opacity="0.8"/>
<rect x="212.80" y="370.80" width="1.15" height="12.60" fill="#ff3a1c" />
<rect x="212.75" y="370.10" width="1.25" height="1.20" fill="#3a2a2a" opacity="0.8"/>
<rect x="214.25" y="382.77" width="1.15" height="0.63" fill="#ff3a1c" />
<rect x="215.70" y="374.30" width="1.15" height="9.10" fill="#ff3a1c" />
<rect x="215.65" y="373.60" width="1.25" height="1.20" fill="#3a2a2a" opacity="0.8"/>
<rect x="217.15" y="375.90" width="1.15" height="7.50" fill="#ff3a1c" />
<rect x="217.10" y="375.20" width="1.25" height="1.20" fill="#3a2a2a" opacity="0.8"/>
<rect x="218.60" y="381.53" width="1.15" height="1.87" fill="#ff3a1c" />
<rect x="218.55" y="380.83" width="1.25" height="1.20" fill="#3a2a2a" opacity="0.8"/>
<rect x="220.05" y="378.40" width="1.15" height="5.00" fill="#ff3a1c" />
<rect x="220.00" y="377.70" width="1.25" height="1.20" fill="#3a2a2a" opacity="0.8"/>
<rect x="221.50" y="381.78" width="1.15" height="1.62" fill="#ff3a1c" />
<rect x="221.45" y="381.08" width="1.25" height="1.20" fill="#3a2a2a" opacity="0.8"/>
<rect x="222.95" y="383.40" width="1.15" height="6.20" fill="#2e4bff" />
<rect x="222.90" y="389.10" width="1.25" height="1.20" fill="#2a2a3a" opacity="0.8"/>
<rect x="224.40" y="382.77" width="1.15" height="0.63" fill="#ff3a1c" />
<rect x="225.85" y="373.30" width="1.15" height="10.10" fill="#ff3a1c" />
<rect x="225.80" y="372.60" width="1.25" height="1.20" fill="#3a2a2a" opacity="0.8"/>
<rect x="227.30" y="380.40" width="1.15" height="3.00" fill="#ff3a1c" />
<rect x="227.25" y="379.70" width="1.25" height="1.20" fill="#3a2a2a" opacity="0.8"/>
<rect x="228.75" y="383.40" width="1.15" height="1.47" fill="#2e4bff" />
<rect x="228.70" y="384.37" width="1.25" height="1.20" fill="#2a2a3a" opacity="0.8"/>
<rect x="230.20" y="383.40" width="1.15" height="12.30" fill="#2e4bff" />
<rect x="230.15" y="395.20" width="1.25" height="1.20" fill="#2a2a3a" opacity="0.8"/>
<rect x="231.65" y="383.40" width="1.15" height="0.90" fill="#2e4bff" />
<rect x="233.10" y="383.40" width="1.15" height="0.48" fill="#2e4bff" />
<rect x="234.55" y="383.40" width="1.15" height="5.30" fill="#2e4bff" />
<rect x="234.50" y="388.20" width="1.25" height="1.20" fill="#2a2a3a" opacity="0.8"/>
<rect x="237.45" y="383.40" width="1.15" height="10.50" fill="#2e4bff" />
<rect x="237.40" y="393.40" width="1.25" height="1.20" fill="#2a2a3a" opacity="0.8"/>
<rect x="238.90" y="383.40" width="1.15" height="1.17" fill="#2e4bff" />
<rect x="240.35" y="383.40" width="1.15" height="3.00" fill="#2e4bff" />
<rect x="240.30" y="385.90" width="1.25" height="1.20" fill="#2a2a3a" opacity="0.8"/>
<rect x="241.80" y="383.40" width="1.15" height="0.64" fill="#2e4bff" />
<rect x="243.25" y="383.40" width="1.15" height="4.40" fill="#2e4bff" />
<rect x="243.20" y="387.30" width="1.25" height="1.20" fill="#2a2a3a" opacity="0.8"/>
<rect x="244.70" y="383.40" width="1.15" height="4.40" fill="#2e4bff" />
<rect x="244.65" y="387.30" width="1.25" height="1.20" fill="#2a2a3a" opacity="0.8"/>
<rect x="246.15" y="383.40" width="1.15" height="1.04" fill="#2e4bff" />
<line x1="94.50" y1="80.50" x2="94.50" y2="447.50" stroke="#222" stroke-width="0.8" stroke-dasharray="2.4 1.9"/>
<line x1="210.50" y1="80.50" x2="210.50" y2="447.50" stroke="#222" stroke-width="0.8" stroke-dasharray="2.4 1.9"/>
<rect x="521.00" y="63.90" width="49.30" height="387.10" fill="#fefbe3" />
<rect x="295.30" y="66.40" width="77.00" height="10.40" fill="#d5eef9" />
<rect x="372.30" y="66.40" width="108.20" height="10.40" fill="#e8eef9" />
<rect x="480.50" y="66.40" width="36.00" height="10.40" fill="#fdeee5" />
<text x="333.80" y="74.30" font-size="8" text-anchor="middle" fill="#111" font-weight="normal" >Distal</text>
<text x="426.50" y="74.30" font-size="8" text-anchor="middle" fill="#111" font-weight="normal" >Middle</text>
<text x="497.90" y="74.30" font-size="8" text-anchor="middle" fill="#111" font-weight="normal" >Proximal</text>
<text x="518.60" y="72.70" font-size="8" text-anchor="start" fill="#111" font-weight="normal" >Cer</text>
<text x="534.60" y="76.60" font-size="8" text-anchor="start" fill="#111" font-weight="normal" >Sis</text>
<text x="561.00" y="76.30" font-size="8" text-anchor="start" fill="#111" font-weight="normal" >J&#954;</text>
<rect x="295.60" y="78.70" width="220.90" height="9.10" fill="#fafafa" stroke="#b5b5b5" stroke-width="0.8"/>
<rect x="521.50" y="78.30" width="48.40" height="9.40" fill="#f6f4de" stroke="#c8c6b0" stroke-width="0.8"/>
<rect x="297.00" y="80.10" width="1.40" height="6.40" fill="#24244a" />
<rect x="301.90" y="80.10" width="0.90" height="6.40" fill="#3344ff" />
<rect x="309.30" y="80.10" width="0.90" height="6.40" fill="#8a66cc" />
<rect x="314.10" y="80.10" width="0.90" height="6.40" fill="#7a7aff" />
<rect x="318.00" y="80.10" width="1.40" height="6.40" fill="#3344ff" />
<rect x="321.80" y="80.10" width="2.00" height="6.40" fill="#1f2cf0" />
<rect x="324.60" y="80.10" width="1.40" height="6.40" fill="#ff3838" />
<rect x="329.90" y="80.10" width="1.30" height="6.40" fill="#3344ff" />
<rect x="331.70" y="80.10" width="1.70" height="6.40" fill="#1f2cf0" />
<rect x="334.70" y="80.10" width="1.20" height="6.40" fill="#55aaff" />
<rect x="336.90" y="80.10" width="1.30" height="6.40" fill="#3344ff" />
<rect x="339.10" y="80.10" width="1.30" height="6.40" fill="#55aaff" />
<rect x="343.90" y="80.10" width="0.90" height="6.40" fill="#3344ff" />
<rect x="346.10" y="80.10" width="3.10" height="6.40" fill="#7a7aff" />
<rect x="349.60" y="80.10" width="1.30" height="6.40" fill="#3344ff" />
<rect x="351.80" y="80.10" width="1.30" height="6.40" fill="#55aaff" />
<rect x="358.10" y="80.10" width="1.30" height="6.40" fill="#3344ff" />
<rect x="360.80" y="80.10" width="0.80" height="6.40" fill="#99aaff" />
<rect x="364.30" y="80.10" width="0.80" height="6.40" fill="#7a7aff" />
<rect x="365.60" y="80.10" width="0.80" height="6.40" fill="#7a7aff" />
<rect x="366.90" y="80.10" width="0.90" height="6.40" fill="#7a7aff" />
<rect x="368.20" y="80.10" width="0.90" height="6.40" fill="#3344ff" />
<rect x="375.20" y="80.10" width="1.80" height="6.40" fill="#7a7aff" />
<rect x="377.00" y="80.10" width="1.20" height="6.40" fill="#ff7a7a" />
<rect x="378.80" y="80.10" width="1.00" height="6.40" fill="#ff6060" />
<rect x="380.40" y="80.10" width="1.00" height="6.40" fill="#ff7a7a" />
<rect x="381.80" y="80.10" width="0.80" height="6.40" fill="#ff6060" />
<rect x="384.00" y="80.10" width="0.80" height="6.40" fill="#ff3838" />
<rect x="385.70" y="80.10" width="0.90" height="6.40" fill="#ff3838" />
<rect x="387.50" y="80.10" width="1.30" height="6.40" fill="#ff3838" />
<rect x="391.80" y="80.10" width="1.40" height="6.40" fill="#b01535" />
<rect x="393.20" y="80.10" width="1.70" height="6.40" fill="#8a66cc" />
<rect x="395.30" y="80.10" width="1.40" height="6.40" fill="#55aaff" />
<rect x="396.70" y="80.10" width="1.50" height="6.40" fill="#ff6060" />
<rect x="398.60" y="80.10" width="1.40" height="6.40" fill="#ff7a7a" />
<rect x="400.40" y="80.10" width="2.40" height="6.40" fill="#ff6060" />
<rect x="405.00" y="80.10" width="0.90" height="6.40" fill="#ff8fb0" />
<rect x="408.00" y="80.10" width="1.40" height="6.40" fill="#ff8fb0" />
<rect x="410.00" y="80.10" width="2.00" height="6.40" fill="#ff7a7a" />
<rect x="412.00" y="80.10" width="2.00" height="6.40" fill="#ff7a7a" />
<rect x="414.30" y="80.10" width="4.50" height="6.40" fill="#ff6060" />
<rect x="420.00" y="80.10" width="1.80" height="6.40" fill="#f02896" />
<rect x="424.00" y="80.10" width="2.00" height="6.40" fill="#ff5aa5" />
<rect x="426.20" y="80.10" width="2.60" height="6.40" fill="#ff7a7a" />
<rect x="431.90" y="80.10" width="1.30" height="6.40" fill="#ff3838" />
<rect x="435.00" y="80.10" width="1.30" height="6.40" fill="#ff3838" />
<rect x="437.80" y="80.10" width="2.00" height="6.40" fill="#ff5aa5" />
<rect x="440.60" y="80.10" width="1.80" height="6.40" fill="#ff6060" />
<rect x="443.30" y="80.10" width="1.30" height="6.40" fill="#ff7a7a" />
<rect x="445.90" y="80.10" width="2.60" height="6.40" fill="#ff7a7a" />
<rect x="450.50" y="80.10" width="1.40" height="6.40" fill="#ff3838" />
<rect x="453.60" y="80.10" width="1.20" height="6.40" fill="#ff3838" />
<rect x="456.80" y="80.10" width="2.20" height="6.40" fill="#ff5aa5" />
<rect x="459.90" y="80.10" width="0.90" height="6.40" fill="#ff3838" />
<rect x="462.10" y="80.10" width="0.90" height="6.40" fill="#ff3838" />
<rect x="463.90" y="80.10" width="0.80" height="6.40" fill="#ff3838" />
<rect x="466.00" y="80.10" width="2.20" height="6.40" fill="#ff6060" />
<rect x="469.50" y="80.10" width="3.10" height="6.40" fill="#ff3838" />
<rect x="475.20" y="80.10" width="2.20" height="6.40" fill="#ff3838" />
<rect x="479.10" y="80.10" width="0.90" height="6.40" fill="#55aaff" />
<rect x="480.90" y="80.10" width="4.40" height="6.40" fill="#ff8fb0" />
<rect x="487.90" y="80.10" width="3.10" height="6.40" fill="#ff6060" />
<rect x="491.40" y="80.10" width="1.30" height="6.40" fill="#3344ff" />
<rect x="493.10" y="80.10" width="1.80" height="6.40" fill="#ff7a7a" />
<rect x="495.30" y="80.10" width="1.30" height="6.40" fill="#ff3838" />
<rect x="497.50" y="80.10" width="1.30" height="6.40" fill="#ff3838" />
<rect x="500.60" y="80.10" width="1.30" height="6.40" fill="#ff8fb0" />
<rect x="501.90" y="80.10" width="0.90" height="6.40" fill="#3344ff" />
<rect x="504.10" y="80.10" width="2.40" height="6.40" fill="#7a7aff" />
<rect x="506.50" y="80.10" width="2.40" height="6.40" fill="#3344ff" />
<rect x="510.20" y="80.10" width="1.80" height="6.40" fill="#99aaff" />
<rect x="512.40" y="80.10" width="3.10" height="6.40" fill="#1f2cf0" />
<rect x="523.40" y="80.90" width="2.40" height="4.80" fill="#8a2a6a" />
<rect x="532.00" y="80.90" width="13.20" height="4.80" fill="#15120a" />
<rect x="567.70" y="80.90" width="2.00" height="4.80" fill="#a8a89a" />
<text x="259.00" y="67.30" font-size="11" text-anchor="start" fill="#000" font-weight="bold" stroke="#000" stroke-width="0.6">e</text>
<rect x="295.50" y="91.40" width="221.30" height="81.90" fill="#f7f7f7" stroke="#cfcfcf" stroke-width="0.8"/>
<rect x="521.40" y="91.40" width="48.50" height="81.90" fill="#f7f5df" stroke="#d6d4c0" stroke-width="0.8"/>
<rect x="295.50" y="130.40" width="221.30" height="5.20" fill="#fbfbfb" />
<rect x="521.40" y="130.40" width="48.50" height="5.20" fill="#f8f6e2" />
<line x1="295.50" y1="130.40" x2="516.80" y2="130.40" stroke="#bdbdbd" stroke-width="0.8" />
<line x1="521.40" y1="130.40" x2="569.90" y2="130.40" stroke="#c8c6b0" stroke-width="0.8" />
<line x1="295.50" y1="135.60" x2="516.80" y2="135.60" stroke="#bdbdbd" stroke-width="0.8" />
<line x1="521.40" y1="135.60" x2="569.90" y2="135.60" stroke="#c8c6b0" stroke-width="0.8" />
<text x="292.20" y="101.20" font-size="8" text-anchor="end" fill="#111" font-weight="normal" >6</text>
<text x="292.20" y="136.90" font-size="8" text-anchor="end" fill="#111" font-weight="normal" >0</text>
<text x="292.20" y="171.50" font-size="8" text-anchor="end" fill="#111" font-weight="normal" >&#8722;6</text>
<text transform="translate(266.0,132.85) rotate(-90)" font-size="8" text-anchor="middle" fill="#111">Relative cryptic RSS</text>
<text transform="translate(275.4,132.85) rotate(-90)" font-size="8" text-anchor="middle" fill="#111">joining (%)</text>
<text x="300.40" y="102.20" font-size="7.4" text-anchor="start" fill="#ff2a2a" font-weight="normal" >Inv (+)</text>
<text x="426.50" y="164.70" font-size="8" text-anchor="middle" fill="#111" font-weight="normal" >J&#954;2 bait</text>
<text x="426.20" y="183.90" font-size="8" text-anchor="middle" fill="#111" font-weight="normal" >649 junctions</text>
<text x="545.60" y="183.90" font-size="8" text-anchor="middle" fill="#111" font-weight="normal" >137 junctions</text>
<rect x="296.00" y="135.60" width="2.40" height="23.90" fill="#0000ff" />
<rect x="298.40" y="135.60" width="3.00" height="16.40" fill="#0000ff" />
<rect x="303.00" y="135.60" width="2.00" height="1.50" fill="#0000ff" />
<rect x="309.00" y="135.60" width="2.40" height="16.40" fill="#0000ff" />
<rect x="313.00" y="135.60" width="2.00" height="1.50" fill="#0000ff" />
<rect x="320.00" y="135.60" width="2.30" height="11.90" fill="#0000ff" />
<rect x="322.30" y="135.60" width="1.70" height="5.40" fill="#0000ff" />
<rect x="326.00" y="129.00" width="2.00" height="1.40" fill="#cc0000" />
<rect x="327.00" y="135.60" width="2.00" height="1.20" fill="#0000ff" />
<rect x="330.00" y="129.20" width="2.00" height="1.20" fill="#cc0000" />
<rect x="331.50" y="135.60" width="2.50" height="11.90" fill="#0000ff" />
<rect x="335.50" y="128.90" width="2.00" height="1.50" fill="#cc0000" />
<rect x="337.00" y="135.60" width="2.00" height="3.40" fill="#0000ff" />
<rect x="341.00" y="129.20" width="2.00" height="1.20" fill="#cc0000" />
<rect x="343.50" y="135.60" width="2.00" height="6.70" fill="#0000ff" />
<rect x="347.00" y="129.10" width="2.00" height="1.30" fill="#cc0000" />
<rect x="348.00" y="135.60" width="2.00" height="2.40" fill="#0000ff" />
<rect x="352.00" y="135.60" width="2.00" height="1.80" fill="#0000ff" />
<rect x="353.00" y="128.90" width="2.00" height="1.50" fill="#cc0000" />
<rect x="355.50" y="135.60" width="2.00" height="2.20" fill="#0000ff" />
<rect x="358.00" y="135.60" width="2.00" height="1.80" fill="#0000ff" />
<rect x="360.50" y="135.60" width="2.00" height="2.40" fill="#0000ff" />
<rect x="362.00" y="129.40" width="2.00" height="1.00" fill="#cc0000" />
<rect x="363.00" y="135.60" width="2.00" height="1.60" fill="#0000ff" />
<rect x="366.00" y="135.60" width="2.00" height="2.00" fill="#0000ff" />
<rect x="365.00" y="135.60" width="3.50" height="0.00" fill="#0000ff" />
<rect x="369.90" y="126.90" width="2.30" height="3.50" fill="#cc0000" />
<rect x="374.60" y="128.60" width="1.60" height="1.80" fill="#cc0000" />
<rect x="376.10" y="125.10" width="2.70" height="5.30" fill="#cc0000" />
<rect x="373.80" y="135.60" width="4.60" height="1.80" fill="#0000ff" />
<rect x="381.90" y="111.90" width="2.00" height="18.50" fill="#cc0000" />
<rect x="383.70" y="122.00" width="1.70" height="8.40" fill="#cc0000" />
<rect x="384.30" y="135.60" width="1.70" height="3.00" fill="#0000ff" />
<rect x="390.70" y="129.00" width="2.90" height="1.40" fill="#cc0000" />
<rect x="394.00" y="127.80" width="2.30" height="2.60" fill="#cc0000" />
<rect x="396.50" y="135.60" width="3.50" height="1.60" fill="#0000ff" />
<rect x="401.20" y="128.00" width="3.50" height="2.40" fill="#cc0000" />
<rect x="407.60" y="127.80" width="2.40" height="2.60" fill="#cc0000" />
<rect x="412.90" y="126.00" width="1.70" height="4.40" fill="#cc0000" />
<rect x="414.60" y="128.60" width="1.80" height="1.80" fill="#cc0000" />
<rect x="418.10" y="128.00" width="3.90" height="2.40" fill="#cc0000" />
<rect x="425.10" y="129.00" width="2.90" height="1.40" fill="#cc0000" />
<rect x="429.80" y="124.80" width="2.00" height="5.60" fill="#cc0000" />
<rect x="440.90" y="128.60" width="4.10" height="1.80" fill="#cc0000" />
<rect x="448.00" y="126.00" width="4.00" height="4.40" fill="#cc0000" />
<rect x="456.00" y="129.40" width="2.00" height="1.00" fill="#cc0000" />
<rect x="462.00" y="129.20" width="2.00" height="1.20" fill="#cc0000" />
<rect x="464.00" y="135.60" width="1.60" height="2.40" fill="#0000ff" />
<rect x="468.00" y="128.90" width="2.00" height="1.50" fill="#cc0000" />
<rect x="472.00" y="135.60" width="1.60" height="3.90" fill="#0000ff" />
<rect x="472.00" y="128.40" width="2.00" height="2.00" fill="#cc0000" />
<rect x="480.00" y="121.00" width="1.60" height="9.40" fill="#cc0000" />
<rect x="480.00" y="135.60" width="2.30" height="16.40" fill="#0000ff" />
<rect x="484.00" y="135.60" width="2.00" height="3.40" fill="#0000ff" />
<rect x="488.00" y="128.90" width="2.00" height="1.50" fill="#cc0000" />
<rect x="493.00" y="128.90" width="2.00" height="1.50" fill="#cc0000" />
<rect x="495.00" y="135.60" width="2.00" height="8.40" fill="#0000ff" />
<rect x="497.00" y="128.40" width="2.00" height="2.00" fill="#cc0000" />
<rect x="501.00" y="128.40" width="2.00" height="2.00" fill="#cc0000" />
<rect x="504.00" y="135.60" width="2.00" height="3.90" fill="#0000ff" />
<rect x="505.00" y="125.00" width="2.00" height="5.40" fill="#cc0000" />
<rect x="508.00" y="135.60" width="2.00" height="2.00" fill="#0000ff" />
<rect x="511.00" y="126.00" width="2.00" height="4.40" fill="#cc0000" />
<rect x="514.00" y="135.60" width="2.00" height="1.90" fill="#0000ff" />
<rect x="527.00" y="127.80" width="2.00" height="2.60" fill="#cc0000" />
<rect x="540.50" y="135.60" width="2.50" height="14.70" fill="#0000ff" />
<rect x="549.70" y="135.60" width="2.80" height="31.90" fill="#0000ff" />
<rect x="555.00" y="135.60" width="2.30" height="11.90" fill="#0000ff" />
<rect x="559.00" y="135.60" width="4.00" height="3.50" fill="#0000ff" />
<rect x="560.50" y="135.60" width="1.60" height="1.50" fill="#0000ff" />
<rect x="565.30" y="128.00" width="1.70" height="2.40" fill="#cc0000" />
<rect x="567.00" y="135.60" width="2.00" height="2.30" fill="#0000ff" />
<line x1="435.80" y1="104.70" x2="435.80" y2="130.00" stroke="#ffffff" stroke-width="0.9" />
<text x="259.00" y="211.60" font-size="11" text-anchor="start" fill="#000" font-weight="bold" stroke="#000" stroke-width="0.6">f</text>
<rect x="295.50" y="216.50" width="221.30" height="81.00" fill="#f7f7f7" stroke="#cfcfcf" stroke-width="0.8"/>
<rect x="521.40" y="216.50" width="48.50" height="81.00" fill="#f7f5df" stroke="#d6d4c0" stroke-width="0.8"/>
<rect x="295.50" y="254.30" width="221.30" height="5.60" fill="#fbfbfb" />
<rect x="521.40" y="254.30" width="48.50" height="5.60" fill="#f8f6e2" />
<line x1="295.50" y1="254.30" x2="516.80" y2="254.30" stroke="#bdbdbd" stroke-width="0.8" />
<line x1="521.40" y1="254.30" x2="569.90" y2="254.30" stroke="#c8c6b0" stroke-width="0.8" />
<line x1="295.50" y1="259.90" x2="516.80" y2="259.90" stroke="#bdbdbd" stroke-width="0.8" />
<line x1="521.40" y1="259.90" x2="569.90" y2="259.90" stroke="#c8c6b0" stroke-width="0.8" />
<text x="292.20" y="227.90" font-size="8" text-anchor="end" fill="#111" font-weight="normal" >8</text>
<text x="292.20" y="261.40" font-size="8" text-anchor="end" fill="#111" font-weight="normal" >0</text>
<text x="292.20" y="297.80" font-size="8" text-anchor="end" fill="#111" font-weight="normal" >&#8722;8</text>
<text transform="translate(266.0,257.50) rotate(-90)" font-size="8" text-anchor="middle" fill="#111">Relative cryptic RSS</text>
<text transform="translate(275.4,257.50) rotate(-90)" font-size="8" text-anchor="middle" fill="#111">joining (%)</text>
<text x="426.50" y="289.70" font-size="8" text-anchor="middle" fill="#111" font-weight="normal" >J&#954;4 bait</text>
<text x="426.20" y="308.20" font-size="8" text-anchor="middle" fill="#111" font-weight="normal" >137 junctions</text>
<text x="545.60" y="308.20" font-size="8" text-anchor="middle" fill="#111" font-weight="normal" >3 junctions</text>
<rect x="296.00" y="259.90" width="2.00" height="27.00" fill="#0000ff" />
<rect x="298.00" y="259.90" width="2.00" height="15.10" fill="#0000ff" />
<rect x="300.00" y="259.90" width="1.60" height="18.10" fill="#0000ff" />
<rect x="304.00" y="259.90" width="2.50" height="6.10" fill="#0000ff" />
<rect x="317.50" y="259.90" width="2.00" height="6.10" fill="#0000ff" />
<rect x="320.00" y="259.90" width="2.00" height="21.10" fill="#0000ff" />
<rect x="322.00" y="252.00" width="2.00" height="2.30" fill="#cc0000" />
<rect x="331.50" y="259.90" width="2.50" height="9.10" fill="#0000ff" />
<rect x="340.50" y="246.00" width="2.50" height="8.30" fill="#cc0000" />
<rect x="344.00" y="259.90" width="2.00" height="3.10" fill="#0000ff" />
<rect x="356.00" y="259.90" width="3.00" height="6.10" fill="#0000ff" />
<rect x="371.00" y="259.90" width="2.00" height="9.10" fill="#0000ff" />
<rect x="374.00" y="259.90" width="2.00" height="2.10" fill="#0000ff" />
<rect x="376.00" y="249.00" width="2.00" height="5.30" fill="#cc0000" />
<rect x="382.00" y="233.60" width="2.00" height="20.70" fill="#cc0000" />
<rect x="386.00" y="246.00" width="2.00" height="8.30" fill="#cc0000" />
<rect x="391.00" y="249.00" width="2.00" height="5.30" fill="#cc0000" />
<rect x="394.00" y="259.90" width="2.00" height="3.10" fill="#0000ff" />
<rect x="402.00" y="249.00" width="2.00" height="5.30" fill="#cc0000" />
<rect x="408.60" y="259.90" width="2.00" height="3.10" fill="#0000ff" />
<rect x="412.60" y="249.00" width="2.00" height="5.30" fill="#cc0000" />
<rect x="419.40" y="249.00" width="2.00" height="5.30" fill="#cc0000" />
<rect x="427.00" y="227.60" width="2.00" height="26.70" fill="#cc0000" />
<rect x="430.00" y="249.00" width="2.00" height="5.30" fill="#cc0000" />
<rect x="440.50" y="252.00" width="2.00" height="2.30" fill="#cc0000" />
<rect x="450.50" y="259.90" width="2.00" height="3.10" fill="#0000ff" />
<rect x="468.00" y="252.00" width="2.00" height="2.30" fill="#cc0000" />
<rect x="472.00" y="252.00" width="2.00" height="2.30" fill="#cc0000" />
<rect x="479.00" y="249.00" width="2.00" height="5.30" fill="#cc0000" />
<rect x="479.00" y="259.90" width="1.60" height="12.10" fill="#0000ff" />
<rect x="480.50" y="259.90" width="2.50" height="37.10" fill="#0000ff" />
<rect x="484.00" y="259.90" width="2.50" height="15.10" fill="#0000ff" />
<rect x="492.50" y="259.90" width="2.00" height="2.10" fill="#0000ff" />
<rect x="495.00" y="259.90" width="2.00" height="3.10" fill="#0000ff" />
<rect x="497.00" y="249.00" width="2.00" height="5.30" fill="#cc0000" />
<rect x="499.00" y="252.00" width="2.00" height="2.30" fill="#cc0000" />
<rect x="498.00" y="259.90" width="2.00" height="11.60" fill="#0000ff" />
<rect x="501.00" y="259.90" width="2.00" height="6.10" fill="#0000ff" />
<rect x="505.00" y="243.00" width="2.00" height="11.30" fill="#cc0000" />
<rect x="508.00" y="259.90" width="2.00" height="3.10" fill="#0000ff" />
<rect x="511.00" y="249.00" width="2.00" height="5.30" fill="#cc0000" />
<rect x="514.00" y="252.00" width="2.00" height="2.30" fill="#cc0000" />
<rect x="549.40" y="259.90" width="2.60" height="8.70" fill="#0000ff" />
<text x="259.00" y="347.00" font-size="11" text-anchor="start" fill="#000" font-weight="bold" stroke="#000" stroke-width="0.6">g</text>
<rect x="295.50" y="347.70" width="221.30" height="82.90" fill="#f7f7f7" stroke="#cfcfcf" stroke-width="0.8"/>
<rect x="521.40" y="347.70" width="48.50" height="82.90" fill="#f7f5df" stroke="#d6d4c0" stroke-width="0.8"/>
<rect x="295.50" y="384.40" width="221.30" height="5.60" fill="#fbfbfb" />
<rect x="521.40" y="384.40" width="48.50" height="5.60" fill="#f8f6e2" />
<line x1="295.50" y1="384.40" x2="516.80" y2="384.40" stroke="#bdbdbd" stroke-width="0.8" />
<line x1="521.40" y1="384.40" x2="569.90" y2="384.40" stroke="#c8c6b0" stroke-width="0.8" />
<line x1="295.50" y1="390.00" x2="516.80" y2="390.00" stroke="#bdbdbd" stroke-width="0.8" />
<line x1="521.40" y1="390.00" x2="569.90" y2="390.00" stroke="#c8c6b0" stroke-width="0.8" />
<text x="292.20" y="357.90" font-size="8" text-anchor="end" fill="#111" font-weight="normal" >11</text>
<text x="292.20" y="391.80" font-size="8" text-anchor="end" fill="#111" font-weight="normal" >0</text>
<text x="292.20" y="430.80" font-size="8" text-anchor="end" fill="#111" font-weight="normal" >&#8722;11</text>
<text transform="translate(266.0,389.65) rotate(-90)" font-size="8" text-anchor="middle" fill="#111">Relative cryptic RSS</text>
<text transform="translate(275.4,389.65) rotate(-90)" font-size="8" text-anchor="middle" fill="#111">joining (%)</text>
<text x="300.40" y="429.10" font-size="7.4" text-anchor="start" fill="#2a3aff" font-weight="normal" >Del (&#8211;)</text>
<text x="426.50" y="424.70" font-size="8" text-anchor="middle" fill="#111" font-weight="normal" >J&#954;5 bait</text>
<text x="426.20" y="441.00" font-size="8" text-anchor="middle" fill="#111" font-weight="normal" >152 junctions</text>
<text x="545.60" y="441.00" font-size="8" text-anchor="middle" fill="#111" font-weight="normal" >2 junctions</text>
<rect x="296.40" y="390.00" width="2.60" height="9.00" fill="#0000ff" />
<rect x="299.00" y="390.00" width="1.60" height="10.00" fill="#0000ff" />
<rect x="300.50" y="390.00" width="1.60" height="37.90" fill="#0000ff" />
<rect x="305.00" y="390.00" width="2.00" height="10.00" fill="#0000ff" />
<rect x="314.00" y="390.00" width="2.00" height="3.50" fill="#0000ff" />
<rect x="318.00" y="390.00" width="2.00" height="2.00" fill="#0000ff" />
<rect x="320.50" y="390.00" width="2.00" height="2.00" fill="#0000ff" />
<rect x="323.00" y="390.00" width="2.00" height="2.00" fill="#0000ff" />
<rect x="331.00" y="382.80" width="2.00" height="1.60" fill="#cc0000" />
<rect x="332.00" y="390.00" width="2.00" height="12.00" fill="#0000ff" />
<rect x="337.00" y="390.00" width="1.60" height="2.00" fill="#0000ff" />
<rect x="343.50" y="390.00" width="2.00" height="14.30" fill="#0000ff" />
<rect x="356.00" y="390.00" width="2.00" height="8.00" fill="#0000ff" />
<rect x="359.50" y="390.00" width="2.00" height="10.00" fill="#0000ff" />
<rect x="366.00" y="390.00" width="2.00" height="2.00" fill="#0000ff" />
<rect x="373.00" y="382.80" width="2.00" height="1.60" fill="#cc0000" />
<rect x="377.00" y="379.00" width="2.00" height="5.40" fill="#cc0000" />
<rect x="382.00" y="382.80" width="3.50" height="1.60" fill="#cc0000" />
<rect x="388.00" y="390.00" width="2.00" height="6.00" fill="#0000ff" />
<rect x="393.40" y="382.80" width="2.00" height="1.60" fill="#cc0000" />
<rect x="403.00" y="382.80" width="2.00" height="1.60" fill="#cc0000" />
<rect x="420.00" y="382.80" width="2.00" height="1.60" fill="#cc0000" />
<rect x="429.30" y="381.00" width="2.00" height="3.40" fill="#cc0000" />
<rect x="441.00" y="381.00" width="2.00" height="3.40" fill="#cc0000" />
<rect x="447.00" y="378.30" width="2.00" height="6.10" fill="#cc0000" />
<rect x="458.50" y="390.00" width="2.00" height="8.30" fill="#0000ff" />
<rect x="468.50" y="378.30" width="2.00" height="6.10" fill="#cc0000" />
<rect x="471.00" y="382.30" width="4.00" height="2.10" fill="#cc0000" />
<rect x="480.00" y="390.00" width="3.00" height="4.00" fill="#0000ff" />
<rect x="484.00" y="382.80" width="2.50" height="1.60" fill="#cc0000" />
<rect x="485.00" y="390.00" width="1.60" height="4.00" fill="#0000ff" />
<rect x="493.00" y="390.00" width="3.00" height="6.00" fill="#0000ff" />
<rect x="502.00" y="390.00" width="2.00" height="6.00" fill="#0000ff" />
<rect x="504.00" y="390.00" width="2.00" height="10.00" fill="#0000ff" />
<rect x="505.00" y="363.60" width="2.00" height="20.80" fill="#cc0000" />
<rect x="509.00" y="382.80" width="2.00" height="1.60" fill="#cc0000" />
<rect x="511.40" y="381.00" width="1.80" height="3.40" fill="#cc0000" />
<rect x="512.00" y="390.00" width="2.00" height="4.00" fill="#0000ff" />
<rect x="523.20" y="382.60" width="2.40" height="1.80" fill="#cc0000" />
<rect x="550.80" y="390.00" width="2.20" height="3.00" fill="#0000ff" />
<line x1="372.30" y1="78.60" x2="372.30" y2="445.00" stroke="#222" stroke-width="0.8" stroke-dasharray="2.4 1.9"/>
<line x1="480.50" y1="78.60" x2="480.50" y2="445.00" stroke="#222" stroke-width="0.8" stroke-dasharray="2.4 1.9"/>
<text x="588.30" y="68.00" font-size="11" text-anchor="start" fill="#000" font-weight="bold" stroke="#000" stroke-width="0.6">h</text>
<line x1="622.30" y1="81.20" x2="622.30" y2="147.80" stroke="#9a9a9a" stroke-width="0.8" />
<line x1="619.30" y1="147.80" x2="622.30" y2="147.80" stroke="#9a9a9a" stroke-width="0.8" />
<text x="614.40" y="150.70" font-size="8" text-anchor="end" fill="#111" font-weight="normal" >0</text>
<line x1="619.30" y1="131.15" x2="622.30" y2="131.15" stroke="#9a9a9a" stroke-width="0.8" />
<text x="614.40" y="134.05" font-size="8" text-anchor="end" fill="#111" font-weight="normal" >25</text>
<line x1="619.30" y1="114.50" x2="622.30" y2="114.50" stroke="#9a9a9a" stroke-width="0.8" />
<text x="614.40" y="117.40" font-size="8" text-anchor="end" fill="#111" font-weight="normal" >50</text>
<line x1="619.30" y1="97.85" x2="622.30" y2="97.85" stroke="#9a9a9a" stroke-width="0.8" />
<text x="614.40" y="100.75" font-size="8" text-anchor="end" fill="#111" font-weight="normal" >75</text>
<line x1="619.30" y1="81.20" x2="622.30" y2="81.20" stroke="#9a9a9a" stroke-width="0.8" />
<text x="614.40" y="84.10" font-size="8" text-anchor="end" fill="#111" font-weight="normal" >100</text>
<text transform="translate(595.20,114.00) rotate(-90)" font-size="8" text-anchor="middle" fill="#111">Cryptic RSSs (%)</text>
<text x="653.10" y="82.50" font-size="8" text-anchor="middle" fill="#111" font-weight="normal" >J&#954;2 bait</text>
<rect x="627.40" y="123.29" width="9.20" height="1.86" fill="#ff3300" stroke="#111" stroke-width="0.5"/>
<rect x="627.40" y="125.16" width="9.20" height="22.64" fill="#0a3cff" stroke="#111" stroke-width="0.5"/>
<line x1="632.00" y1="122.43" x2="632.00" y2="127.22" stroke="#111" stroke-width="0.6" />
<line x1="630.00" y1="122.43" x2="634.00" y2="122.43" stroke="#111" stroke-width="0.6" />
<line x1="630.00" y1="127.22" x2="634.00" y2="127.22" stroke="#111" stroke-width="0.6" />
<line x1="632.00" y1="147.80" x2="632.00" y2="151.40" stroke="#333" stroke-width="0.7" />
<text transform="translate(633.80,159.80) rotate(-45)" font-size="8" text-anchor="end" fill="#111">Distal</text>
<rect x="641.70" y="127.15" width="9.20" height="18.32" fill="#ff3300" stroke="#111" stroke-width="0.5"/>
<rect x="641.70" y="145.47" width="9.20" height="2.33" fill="#0a3cff" stroke="#111" stroke-width="0.5"/>
<line x1="646.30" y1="124.02" x2="646.30" y2="130.28" stroke="#111" stroke-width="0.6" />
<line x1="644.30" y1="124.02" x2="648.30" y2="124.02" stroke="#111" stroke-width="0.6" />
<line x1="644.30" y1="130.28" x2="648.30" y2="130.28" stroke="#111" stroke-width="0.6" />
<line x1="646.30" y1="145.00" x2="646.30" y2="145.94" stroke="#111" stroke-width="0.6" />
<line x1="644.30" y1="145.00" x2="648.30" y2="145.00" stroke="#111" stroke-width="0.6" />
<line x1="644.30" y1="145.94" x2="648.30" y2="145.94" stroke="#111" stroke-width="0.6" />
<line x1="646.30" y1="147.80" x2="646.30" y2="151.40" stroke="#333" stroke-width="0.7" />
<text transform="translate(648.10,159.80) rotate(-45)" font-size="8" text-anchor="end" fill="#111">Middle</text>
<rect x="656.00" y="139.08" width="9.20" height="3.93" fill="#ff3300" stroke="#111" stroke-width="0.5"/>
<rect x="656.00" y="143.00" width="9.20" height="4.80" fill="#0a3cff" stroke="#111" stroke-width="0.5"/>
<line x1="660.60" y1="138.61" x2="660.60" y2="141.54" stroke="#111" stroke-width="0.6" />
<line x1="658.60" y1="138.61" x2="662.60" y2="138.61" stroke="#111" stroke-width="0.6" />
<line x1="658.60" y1="141.54" x2="662.60" y2="141.54" stroke="#111" stroke-width="0.6" />
<line x1="660.60" y1="147.80" x2="660.60" y2="151.40" stroke="#333" stroke-width="0.7" />
<text transform="translate(662.40,159.80) rotate(-45)" font-size="8" text-anchor="end" fill="#111">Proximal</text>
<rect x="670.40" y="136.61" width="9.20" height="0.27" fill="#ff3300" stroke="#111" stroke-width="0.5"/>
<rect x="670.40" y="136.88" width="9.20" height="10.92" fill="#0a3cff" stroke="#111" stroke-width="0.5"/>
<line x1="675.00" y1="136.01" x2="675.00" y2="138.01" stroke="#111" stroke-width="0.6" />
<line x1="673.00" y1="136.01" x2="677.00" y2="136.01" stroke="#111" stroke-width="0.6" />
<line x1="673.00" y1="138.01" x2="677.00" y2="138.01" stroke="#111" stroke-width="0.6" />
<line x1="675.00" y1="147.80" x2="675.00" y2="151.40" stroke="#333" stroke-width="0.7" />
<text transform="translate(676.80,159.80) rotate(-45)" font-size="8" text-anchor="end" fill="#111">Cer-to-J&#954;</text>
<line x1="620.00" y1="147.80" x2="685.00" y2="147.80" stroke="#9a9a9a" stroke-width="1.0" />
<text x="588.30" y="212.30" font-size="11" text-anchor="start" fill="#000" font-weight="bold" stroke="#000" stroke-width="0.6">i</text>
<line x1="622.30" y1="213.80" x2="622.30" y2="280.40" stroke="#9a9a9a" stroke-width="0.8" />
<line x1="619.30" y1="280.40" x2="622.30" y2="280.40" stroke="#9a9a9a" stroke-width="0.8" />
<text x="614.40" y="283.30" font-size="8" text-anchor="end" fill="#111" font-weight="normal" >0</text>
<line x1="619.30" y1="263.75" x2="622.30" y2="263.75" stroke="#9a9a9a" stroke-width="0.8" />
<text x="614.40" y="266.65" font-size="8" text-anchor="end" fill="#111" font-weight="normal" >25</text>
<line x1="619.30" y1="247.10" x2="622.30" y2="247.10" stroke="#9a9a9a" stroke-width="0.8" />
<text x="614.40" y="250.00" font-size="8" text-anchor="end" fill="#111" font-weight="normal" >50</text>
<line x1="619.30" y1="230.45" x2="622.30" y2="230.45" stroke="#9a9a9a" stroke-width="0.8" />
<text x="614.40" y="233.35" font-size="8" text-anchor="end" fill="#111" font-weight="normal" >75</text>
<line x1="619.30" y1="213.80" x2="622.30" y2="213.80" stroke="#9a9a9a" stroke-width="0.8" />
<text x="614.40" y="216.70" font-size="8" text-anchor="end" fill="#111" font-weight="normal" >100</text>
<text transform="translate(595.00,248.00) rotate(-90)" font-size="8" text-anchor="middle" fill="#111">Cryptic RSSs (%)</text>
<text x="653.10" y="214.10" font-size="8" text-anchor="middle" fill="#111" font-weight="normal" >J&#954;4 bait</text>
<rect x="627.40" y="258.56" width="9.20" height="2.20" fill="#ff3300" stroke="#111" stroke-width="0.5"/>
<rect x="627.40" y="260.75" width="9.20" height="19.65" fill="#0a3cff" stroke="#111" stroke-width="0.5"/>
<line x1="632.00" y1="257.22" x2="632.00" y2="263.62" stroke="#111" stroke-width="0.6" />
<line x1="630.00" y1="257.22" x2="634.00" y2="257.22" stroke="#111" stroke-width="0.6" />
<line x1="630.00" y1="263.62" x2="634.00" y2="263.62" stroke="#111" stroke-width="0.6" />
<line x1="632.00" y1="280.40" x2="632.00" y2="284.00" stroke="#333" stroke-width="0.7" />
<text transform="translate(633.80,292.40) rotate(-45)" font-size="8" text-anchor="end" fill="#111">Distal</text>
<rect x="641.70" y="258.16" width="9.20" height="18.51" fill="#ff3300" stroke="#111" stroke-width="0.5"/>
<rect x="641.70" y="276.67" width="9.20" height="3.73" fill="#0a3cff" stroke="#111" stroke-width="0.5"/>
<line x1="646.30" y1="256.36" x2="646.30" y2="260.09" stroke="#111" stroke-width="0.6" />
<line x1="644.30" y1="256.36" x2="648.30" y2="256.36" stroke="#111" stroke-width="0.6" />
<line x1="644.30" y1="260.09" x2="648.30" y2="260.09" stroke="#111" stroke-width="0.6" />
<line x1="646.30" y1="272.27" x2="646.30" y2="280.27" stroke="#111" stroke-width="0.6" />
<line x1="644.30" y1="272.27" x2="648.30" y2="272.27" stroke="#111" stroke-width="0.6" />
<line x1="644.30" y1="280.27" x2="648.30" y2="280.27" stroke="#111" stroke-width="0.6" />
<line x1="646.30" y1="280.40" x2="646.30" y2="284.00" stroke="#333" stroke-width="0.7" />
<text transform="translate(648.10,292.40) rotate(-45)" font-size="8" text-anchor="end" fill="#111">Middle</text>
<rect x="656.00" y="260.15" width="9.20" height="6.86" fill="#ff3300" stroke="#111" stroke-width="0.5"/>
<rect x="656.00" y="267.01" width="9.20" height="13.39" fill="#0a3cff" stroke="#111" stroke-width="0.5"/>
<line x1="660.60" y1="256.89" x2="660.60" y2="263.68" stroke="#111" stroke-width="0.6" />
<line x1="658.60" y1="256.89" x2="662.60" y2="256.89" stroke="#111" stroke-width="0.6" />
<line x1="658.60" y1="263.68" x2="662.60" y2="263.68" stroke="#111" stroke-width="0.6" />
<line x1="660.60" y1="263.62" x2="660.60" y2="270.41" stroke="#111" stroke-width="0.6" />
<line x1="658.60" y1="263.62" x2="662.60" y2="263.62" stroke="#111" stroke-width="0.6" />
<line x1="658.60" y1="270.41" x2="662.60" y2="270.41" stroke="#111" stroke-width="0.6" />
<line x1="660.60" y1="280.40" x2="660.60" y2="284.00" stroke="#333" stroke-width="0.7" />
<text transform="translate(662.40,292.40) rotate(-45)" font-size="8" text-anchor="end" fill="#111">Proximal</text>
<rect x="670.40" y="279.60" width="9.20" height="0.80" fill="#0a3cff" stroke="#111" stroke-width="0.5"/>
<line x1="675.00" y1="278.73" x2="675.00" y2="279.93" stroke="#111" stroke-width="0.6" />
<line x1="673.00" y1="278.73" x2="677.00" y2="278.73" stroke="#111" stroke-width="0.6" />
<line x1="673.00" y1="279.93" x2="677.00" y2="279.93" stroke="#111" stroke-width="0.6" />
<line x1="675.00" y1="280.40" x2="675.00" y2="284.00" stroke="#333" stroke-width="0.7" />
<text transform="translate(676.80,292.40) rotate(-45)" font-size="8" text-anchor="end" fill="#111">Cer-to-J&#954;</text>
<line x1="620.00" y1="280.40" x2="685.00" y2="280.40" stroke="#9a9a9a" stroke-width="1.0" />
<text x="589.20" y="347.00" font-size="11" text-anchor="start" fill="#000" font-weight="bold" stroke="#000" stroke-width="0.6">j</text>
<line x1="622.30" y1="349.70" x2="622.30" y2="416.30" stroke="#9a9a9a" stroke-width="0.8" />
<line x1="619.30" y1="416.30" x2="622.30" y2="416.30" stroke="#9a9a9a" stroke-width="0.8" />
<text x="614.40" y="419.20" font-size="8" text-anchor="end" fill="#111" font-weight="normal" >0</text>
<line x1="619.30" y1="399.65" x2="622.30" y2="399.65" stroke="#9a9a9a" stroke-width="0.8" />
<text x="614.40" y="402.55" font-size="8" text-anchor="end" fill="#111" font-weight="normal" >25</text>
<line x1="619.30" y1="383.00" x2="622.30" y2="383.00" stroke="#9a9a9a" stroke-width="0.8" />
<text x="614.40" y="385.90" font-size="8" text-anchor="end" fill="#111" font-weight="normal" >50</text>
<line x1="619.30" y1="366.35" x2="622.30" y2="366.35" stroke="#9a9a9a" stroke-width="0.8" />
<text x="614.40" y="369.25" font-size="8" text-anchor="end" fill="#111" font-weight="normal" >75</text>
<line x1="619.30" y1="349.70" x2="622.30" y2="349.70" stroke="#9a9a9a" stroke-width="0.8" />
<text x="614.40" y="352.60" font-size="8" text-anchor="end" fill="#111" font-weight="normal" >100</text>
<text transform="translate(593.40,383.80) rotate(-90)" font-size="8" text-anchor="middle" fill="#111">Cryptic RSSs (%)</text>
<text x="653.10" y="353.40" font-size="8" text-anchor="middle" fill="#111" font-weight="normal" >J&#954;5 bait</text>
<rect x="627.40" y="390.33" width="9.20" height="25.97" fill="#0a3cff" stroke="#111" stroke-width="0.5"/>
<line x1="632.00" y1="383.47" x2="632.00" y2="397.19" stroke="#111" stroke-width="0.6" />
<line x1="630.00" y1="383.47" x2="634.00" y2="383.47" stroke="#111" stroke-width="0.6" />
<line x1="630.00" y1="397.19" x2="634.00" y2="397.19" stroke="#111" stroke-width="0.6" />
<line x1="632.00" y1="416.30" x2="632.00" y2="419.90" stroke="#333" stroke-width="0.7" />
<text transform="translate(633.80,428.30) rotate(-45)" font-size="8" text-anchor="end" fill="#111">Distal</text>
<rect x="641.70" y="401.38" width="9.20" height="11.59" fill="#ff3300" stroke="#111" stroke-width="0.5"/>
<rect x="641.70" y="412.97" width="9.20" height="3.33" fill="#0a3cff" stroke="#111" stroke-width="0.5"/>
<line x1="646.30" y1="400.85" x2="646.30" y2="401.91" stroke="#111" stroke-width="0.6" />
<line x1="644.30" y1="400.85" x2="648.30" y2="400.85" stroke="#111" stroke-width="0.6" />
<line x1="644.30" y1="401.91" x2="648.30" y2="401.91" stroke="#111" stroke-width="0.6" />
<line x1="646.30" y1="410.64" x2="646.30" y2="415.30" stroke="#111" stroke-width="0.6" />
<line x1="644.30" y1="410.64" x2="648.30" y2="410.64" stroke="#111" stroke-width="0.6" />
<line x1="644.30" y1="415.30" x2="648.30" y2="415.30" stroke="#111" stroke-width="0.6" />
<line x1="646.30" y1="416.30" x2="646.30" y2="419.90" stroke="#333" stroke-width="0.7" />
<text transform="translate(648.10,428.30) rotate(-45)" font-size="8" text-anchor="end" fill="#111">Middle</text>
<rect x="656.00" y="392.79" width="9.20" height="14.39" fill="#ff3300" stroke="#111" stroke-width="0.5"/>
<rect x="656.00" y="407.18" width="9.20" height="9.12" fill="#0a3cff" stroke="#111" stroke-width="0.5"/>
<line x1="660.60" y1="389.19" x2="660.60" y2="396.39" stroke="#111" stroke-width="0.6" />
<line x1="658.60" y1="389.19" x2="662.60" y2="389.19" stroke="#111" stroke-width="0.6" />
<line x1="658.60" y1="396.39" x2="662.60" y2="396.39" stroke="#111" stroke-width="0.6" />
<line x1="660.60" y1="403.51" x2="660.60" y2="410.84" stroke="#111" stroke-width="0.6" />
<line x1="658.60" y1="403.51" x2="662.60" y2="403.51" stroke="#111" stroke-width="0.6" />
<line x1="658.60" y1="410.84" x2="662.60" y2="410.84" stroke="#111" stroke-width="0.6" />
<line x1="660.60" y1="416.30" x2="660.60" y2="419.90" stroke="#333" stroke-width="0.7" />
<text transform="translate(662.40,428.30) rotate(-45)" font-size="8" text-anchor="end" fill="#111">Proximal</text>
<rect x="670.40" y="415.50" width="9.20" height="0.80" fill="#0a3cff" stroke="#111" stroke-width="0.5"/>
<line x1="675.00" y1="415.10" x2="675.00" y2="415.90" stroke="#111" stroke-width="0.6" />
<line x1="673.00" y1="415.10" x2="677.00" y2="415.10" stroke="#111" stroke-width="0.6" />
<line x1="673.00" y1="415.90" x2="677.00" y2="415.90" stroke="#111" stroke-width="0.6" />
<line x1="675.00" y1="416.30" x2="675.00" y2="419.90" stroke="#333" stroke-width="0.7" />
<text transform="translate(676.80,428.30) rotate(-45)" font-size="8" text-anchor="end" fill="#111">Cer-to-J&#954;</text>
<line x1="620.00" y1="416.30" x2="685.00" y2="416.30" stroke="#9a9a9a" stroke-width="1.0" />
</svg></body></html>
